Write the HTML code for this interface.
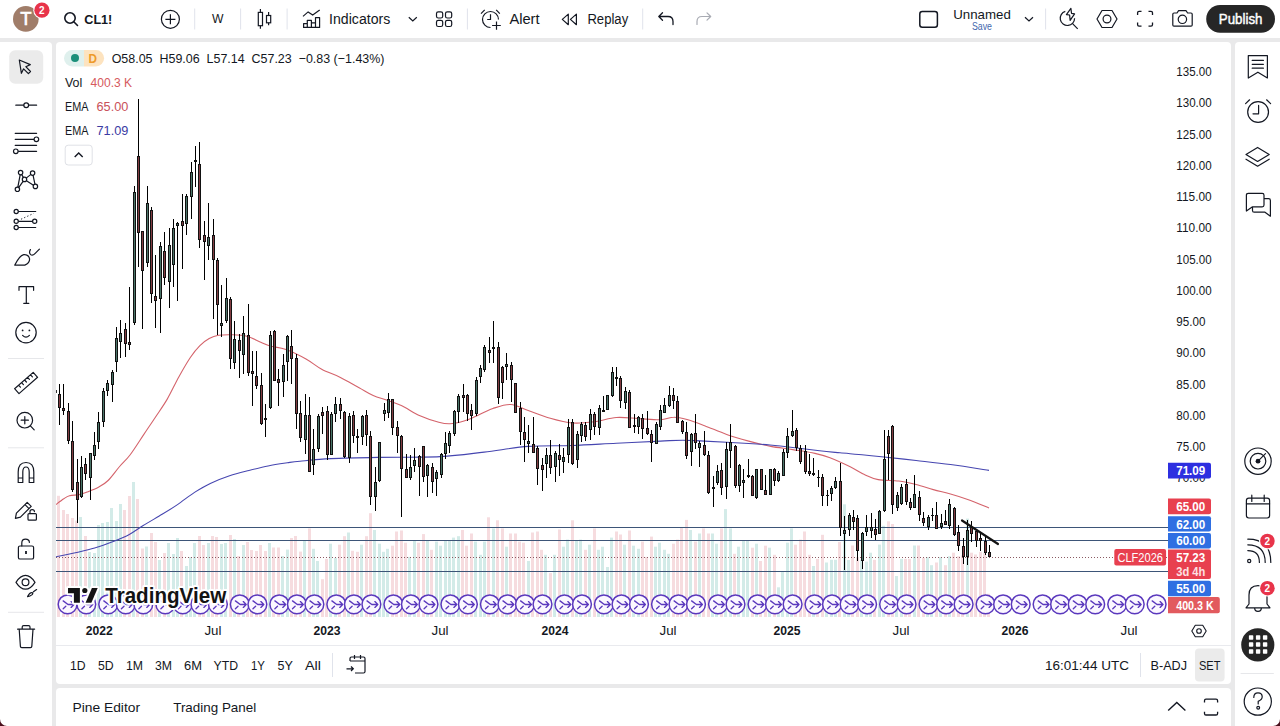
<!DOCTYPE html>
<html><head><meta charset="utf-8">
<style>
html,body{margin:0;padding:0;}
body{width:1280px;height:726px;overflow:hidden;background:#e9e9ea;position:relative;font-family:"Liberation Sans",sans-serif;color:#131722;}
.p{position:absolute;background:#fff;}
svg{position:absolute;left:0;top:0;}
text{font-family:"Liberation Sans",sans-serif;}
</style></head><body>
<div class="p" style="left:0;top:0;width:1280px;height:38px;"></div>
<div class="p" style="left:0;top:42px;width:52px;height:684px;border-radius:0 4px 0 0;"></div>
<div class="p" style="left:56px;top:42px;width:1175px;height:642px;border-radius:4px;"></div>
<div class="p" style="left:56px;top:688px;width:1175px;height:40px;border-radius:4px 4px 0 0;"></div>
<div class="p" style="left:1235px;top:42px;width:45px;height:684px;border-radius:4px 0 0 0;"></div>
<svg width="1280" height="726" viewBox="0 0 1280 726">
<defs><clipPath id="cc"><rect x="56" y="42" width="1112" height="575"/></clipPath></defs>
<g clip-path="url(#cc)">
<g><rect x="57" y="495.8" width="3" height="121.2" fill="#f6dcdf"/><rect x="62" y="510.0" width="3" height="107.0" fill="#f6dcdf"/><rect x="66" y="514.0" width="3" height="103.0" fill="#f6dcdf"/><rect x="71" y="518.0" width="3" height="99.0" fill="#f6dcdf"/><rect x="75" y="520.6" width="3" height="96.4" fill="#f6dcdf"/><rect x="79" y="517.0" width="3" height="100.0" fill="#d3ebe8"/><rect x="84" y="536.0" width="3" height="81.0" fill="#f6dcdf"/><rect x="88" y="552.0" width="3" height="65.0" fill="#d3ebe8"/><rect x="93" y="553.0" width="3" height="64.0" fill="#d3ebe8"/><rect x="97" y="525.0" width="3" height="92.0" fill="#d3ebe8"/><rect x="101" y="523.0" width="3" height="94.0" fill="#d3ebe8"/><rect x="106" y="522.0" width="3" height="95.0" fill="#d3ebe8"/><rect x="110" y="508.0" width="3" height="109.0" fill="#d3ebe8"/><rect x="115" y="521.0" width="3" height="96.0" fill="#d3ebe8"/><rect x="119" y="504.0" width="3" height="113.0" fill="#d3ebe8"/><rect x="123" y="510.0" width="3" height="107.0" fill="#f6dcdf"/><rect x="128" y="496.0" width="3" height="121.0" fill="#f6dcdf"/><rect x="132" y="482.0" width="3" height="135.0" fill="#d3ebe8"/><rect x="136" y="499.0" width="3" height="118.0" fill="#f6dcdf"/><rect x="141" y="548.5" width="3" height="68.5" fill="#f6dcdf"/><rect x="145" y="546.5" width="3" height="70.5" fill="#d3ebe8"/><rect x="150" y="533.0" width="3" height="84.0" fill="#f6dcdf"/><rect x="154" y="542.0" width="3" height="75.0" fill="#f6dcdf"/><rect x="158" y="560.0" width="3" height="57.0" fill="#d3ebe8"/><rect x="163" y="553.0" width="3" height="64.0" fill="#f6dcdf"/><rect x="167" y="543.0" width="3" height="74.0" fill="#d3ebe8"/><rect x="172" y="554.0" width="3" height="63.0" fill="#d3ebe8"/><rect x="176" y="538.0" width="3" height="79.0" fill="#d3ebe8"/><rect x="180" y="551.0" width="3" height="66.0" fill="#f6dcdf"/><rect x="185" y="566.0" width="3" height="51.0" fill="#d3ebe8"/><rect x="189" y="557.0" width="3" height="60.0" fill="#d3ebe8"/><rect x="193" y="543.0" width="3" height="74.0" fill="#d3ebe8"/><rect x="198" y="536.0" width="3" height="81.0" fill="#f6dcdf"/><rect x="202" y="545.0" width="3" height="72.0" fill="#f6dcdf"/><rect x="207" y="543.0" width="3" height="74.0" fill="#d3ebe8"/><rect x="211" y="536.0" width="3" height="81.0" fill="#f6dcdf"/><rect x="215" y="537.0" width="3" height="80.0" fill="#f6dcdf"/><rect x="220" y="544.0" width="3" height="73.0" fill="#d3ebe8"/><rect x="224" y="543.0" width="3" height="74.0" fill="#d3ebe8"/><rect x="229" y="535.0" width="3" height="82.0" fill="#f6dcdf"/><rect x="233" y="539.0" width="3" height="78.0" fill="#d3ebe8"/><rect x="237" y="556.0" width="3" height="61.0" fill="#f6dcdf"/><rect x="242" y="545.0" width="3" height="72.0" fill="#d3ebe8"/><rect x="246" y="542.0" width="3" height="75.0" fill="#f6dcdf"/><rect x="250" y="550.0" width="3" height="67.0" fill="#f6dcdf"/><rect x="255" y="551.0" width="3" height="66.0" fill="#f6dcdf"/><rect x="259" y="545.0" width="3" height="72.0" fill="#f6dcdf"/><rect x="264" y="551.0" width="3" height="66.0" fill="#f6dcdf"/><rect x="268" y="543.0" width="3" height="74.0" fill="#d3ebe8"/><rect x="272" y="547.5" width="3" height="69.5" fill="#f6dcdf"/><rect x="277" y="547.5" width="3" height="69.5" fill="#f6dcdf"/><rect x="281" y="556.0" width="3" height="61.0" fill="#d3ebe8"/><rect x="286" y="549.6" width="3" height="67.4" fill="#d3ebe8"/><rect x="290" y="538.0" width="3" height="79.0" fill="#f6dcdf"/><rect x="294" y="536.0" width="3" height="81.0" fill="#f6dcdf"/><rect x="299" y="551.6" width="3" height="65.4" fill="#f6dcdf"/><rect x="303" y="540.0" width="3" height="77.0" fill="#d3ebe8"/><rect x="308" y="528.4" width="3" height="88.6" fill="#f6dcdf"/><rect x="312" y="548.8" width="3" height="68.2" fill="#d3ebe8"/><rect x="316" y="561.0" width="3" height="56.0" fill="#d3ebe8"/><rect x="321" y="579.2" width="3" height="37.8" fill="#f6dcdf"/><rect x="325" y="558.9" width="3" height="58.1" fill="#f6dcdf"/><rect x="329" y="543.7" width="3" height="73.3" fill="#d3ebe8"/><rect x="334" y="557.9" width="3" height="59.1" fill="#d3ebe8"/><rect x="338" y="544.7" width="3" height="72.3" fill="#f6dcdf"/><rect x="343" y="536.2" width="3" height="80.8" fill="#f6dcdf"/><rect x="347" y="532.5" width="3" height="84.5" fill="#d3ebe8"/><rect x="351" y="550.8" width="3" height="66.2" fill="#f6dcdf"/><rect x="356" y="551.8" width="3" height="65.2" fill="#f6dcdf"/><rect x="360" y="544.7" width="3" height="72.3" fill="#d3ebe8"/><rect x="365" y="536.2" width="3" height="80.8" fill="#f6dcdf"/><rect x="369" y="513.2" width="3" height="103.8" fill="#f6dcdf"/><rect x="373" y="530.0" width="3" height="87.0" fill="#d3ebe8"/><rect x="378" y="543.7" width="3" height="73.3" fill="#d3ebe8"/><rect x="382" y="551.8" width="3" height="65.2" fill="#d3ebe8"/><rect x="386" y="548.8" width="3" height="68.2" fill="#d3ebe8"/><rect x="391" y="545.7" width="3" height="71.3" fill="#f6dcdf"/><rect x="395" y="531.5" width="3" height="85.5" fill="#f6dcdf"/><rect x="400" y="530.5" width="3" height="86.5" fill="#f6dcdf"/><rect x="404" y="542.7" width="3" height="74.3" fill="#f6dcdf"/><rect x="408" y="556.9" width="3" height="60.1" fill="#d3ebe8"/><rect x="413" y="540.6" width="3" height="76.4" fill="#d3ebe8"/><rect x="417" y="542.7" width="3" height="74.3" fill="#f6dcdf"/><rect x="422" y="534.1" width="3" height="82.9" fill="#f6dcdf"/><rect x="426" y="540.6" width="3" height="76.4" fill="#d3ebe8"/><rect x="430" y="549.8" width="3" height="67.2" fill="#f6dcdf"/><rect x="435" y="541.6" width="3" height="75.4" fill="#d3ebe8"/><rect x="439" y="545.7" width="3" height="71.3" fill="#d3ebe8"/><rect x="444" y="540.6" width="3" height="76.4" fill="#d3ebe8"/><rect x="448" y="540.6" width="3" height="76.4" fill="#d3ebe8"/><rect x="452" y="537.6" width="3" height="79.4" fill="#d3ebe8"/><rect x="457" y="536.2" width="3" height="80.8" fill="#d3ebe8"/><rect x="461" y="530.0" width="3" height="87.0" fill="#f6dcdf"/><rect x="465" y="545.7" width="3" height="71.3" fill="#f6dcdf"/><rect x="470" y="533.5" width="3" height="83.5" fill="#f6dcdf"/><rect x="474" y="541.6" width="3" height="75.4" fill="#d3ebe8"/><rect x="479" y="554.8" width="3" height="62.2" fill="#d3ebe8"/><rect x="483" y="541.6" width="3" height="75.4" fill="#d3ebe8"/><rect x="487" y="517.3" width="3" height="99.7" fill="#f6dcdf"/><rect x="492" y="528.4" width="3" height="88.6" fill="#d3ebe8"/><rect x="496" y="520.3" width="3" height="96.7" fill="#f6dcdf"/><rect x="501" y="528.4" width="3" height="88.6" fill="#f6dcdf"/><rect x="505" y="546.7" width="3" height="70.3" fill="#d3ebe8"/><rect x="509" y="533.5" width="3" height="83.5" fill="#f6dcdf"/><rect x="514" y="533.5" width="3" height="83.5" fill="#f6dcdf"/><rect x="518" y="541.6" width="3" height="75.4" fill="#f6dcdf"/><rect x="522" y="542.7" width="3" height="74.3" fill="#f6dcdf"/><rect x="527" y="561.0" width="3" height="56.0" fill="#d3ebe8"/><rect x="531" y="532.5" width="3" height="84.5" fill="#f6dcdf"/><rect x="536" y="531.5" width="3" height="85.5" fill="#f6dcdf"/><rect x="540" y="549.8" width="3" height="67.2" fill="#f6dcdf"/><rect x="544" y="554.8" width="3" height="62.2" fill="#d3ebe8"/><rect x="549" y="573.1" width="3" height="43.9" fill="#f6dcdf"/><rect x="553" y="554.8" width="3" height="62.2" fill="#d3ebe8"/><rect x="558" y="529.5" width="3" height="87.5" fill="#f6dcdf"/><rect x="562" y="546.7" width="3" height="70.3" fill="#d3ebe8"/><rect x="566" y="539.6" width="3" height="77.4" fill="#d3ebe8"/><rect x="571" y="520.3" width="3" height="96.7" fill="#f6dcdf"/><rect x="575" y="540.6" width="3" height="76.4" fill="#d3ebe8"/><rect x="579" y="539.6" width="3" height="77.4" fill="#d3ebe8"/><rect x="584" y="549.8" width="3" height="67.2" fill="#f6dcdf"/><rect x="588" y="544.7" width="3" height="72.3" fill="#d3ebe8"/><rect x="593" y="528.4" width="3" height="88.6" fill="#f6dcdf"/><rect x="597" y="549.8" width="3" height="67.2" fill="#d3ebe8"/><rect x="601" y="546.7" width="3" height="70.3" fill="#d3ebe8"/><rect x="606" y="567.0" width="3" height="50.0" fill="#d3ebe8"/><rect x="610" y="537.6" width="3" height="79.4" fill="#d3ebe8"/><rect x="615" y="531.5" width="3" height="85.5" fill="#f6dcdf"/><rect x="619" y="534.5" width="3" height="82.5" fill="#f6dcdf"/><rect x="623" y="544.7" width="3" height="72.3" fill="#d3ebe8"/><rect x="628" y="530.5" width="3" height="86.5" fill="#f6dcdf"/><rect x="632" y="545.7" width="3" height="71.3" fill="#d3ebe8"/><rect x="637" y="548.8" width="3" height="68.2" fill="#d3ebe8"/><rect x="641" y="541.6" width="3" height="75.4" fill="#f6dcdf"/><rect x="645" y="556.9" width="3" height="60.1" fill="#f6dcdf"/><rect x="650" y="536.6" width="3" height="80.4" fill="#f6dcdf"/><rect x="654" y="546.7" width="3" height="70.3" fill="#d3ebe8"/><rect x="658" y="542.7" width="3" height="74.3" fill="#d3ebe8"/><rect x="663" y="549.8" width="3" height="67.2" fill="#d3ebe8"/><rect x="667" y="553.8" width="3" height="63.2" fill="#d3ebe8"/><rect x="672" y="543.7" width="3" height="73.3" fill="#f6dcdf"/><rect x="676" y="539.6" width="3" height="77.4" fill="#f6dcdf"/><rect x="680" y="527.4" width="3" height="89.6" fill="#f6dcdf"/><rect x="685" y="519.9" width="3" height="97.1" fill="#f6dcdf"/><rect x="689" y="530.0" width="3" height="87.0" fill="#d3ebe8"/><rect x="694" y="541.6" width="3" height="75.4" fill="#f6dcdf"/><rect x="698" y="533.5" width="3" height="83.5" fill="#d3ebe8"/><rect x="702" y="528.4" width="3" height="88.6" fill="#f6dcdf"/><rect x="707" y="533.5" width="3" height="83.5" fill="#f6dcdf"/><rect x="711" y="533.5" width="3" height="83.5" fill="#d3ebe8"/><rect x="715" y="543.7" width="3" height="73.3" fill="#d3ebe8"/><rect x="720" y="528.4" width="3" height="88.6" fill="#f6dcdf"/><rect x="724" y="509.1" width="3" height="107.9" fill="#d3ebe8"/><rect x="729" y="528.4" width="3" height="88.6" fill="#d3ebe8"/><rect x="733" y="553.8" width="3" height="63.2" fill="#f6dcdf"/><rect x="737" y="546.7" width="3" height="70.3" fill="#d3ebe8"/><rect x="742" y="540.6" width="3" height="76.4" fill="#d3ebe8"/><rect x="746" y="540.6" width="3" height="76.4" fill="#d3ebe8"/><rect x="751" y="547.7" width="3" height="69.3" fill="#f6dcdf"/><rect x="755" y="543.7" width="3" height="73.3" fill="#d3ebe8"/><rect x="759" y="561.0" width="3" height="56.0" fill="#f6dcdf"/><rect x="764" y="545.7" width="3" height="71.3" fill="#f6dcdf"/><rect x="768" y="547.7" width="3" height="69.3" fill="#d3ebe8"/><rect x="773" y="554.8" width="3" height="62.2" fill="#f6dcdf"/><rect x="777" y="587.3" width="3" height="29.7" fill="#d3ebe8"/><rect x="781" y="572.1" width="3" height="44.9" fill="#d3ebe8"/><rect x="786" y="542.7" width="3" height="74.3" fill="#d3ebe8"/><rect x="790" y="528.4" width="3" height="88.6" fill="#d3ebe8"/><rect x="794" y="544.7" width="3" height="72.3" fill="#f6dcdf"/><rect x="799" y="539.6" width="3" height="77.4" fill="#f6dcdf"/><rect x="803" y="531.5" width="3" height="85.5" fill="#f6dcdf"/><rect x="808" y="554.8" width="3" height="62.2" fill="#f6dcdf"/><rect x="812" y="566.0" width="3" height="51.0" fill="#d3ebe8"/><rect x="816" y="558.9" width="3" height="58.1" fill="#f6dcdf"/><rect x="821" y="534.8" width="3" height="82.2" fill="#f6dcdf"/><rect x="825" y="562.5" width="3" height="54.5" fill="#d3ebe8"/><rect x="830" y="559.8" width="3" height="57.2" fill="#d3ebe8"/><rect x="834" y="559.8" width="3" height="57.2" fill="#d3ebe8"/><rect x="838" y="541.9" width="3" height="75.1" fill="#f6dcdf"/><rect x="843" y="504.3" width="3" height="112.7" fill="#d3ebe8"/><rect x="847" y="560.0" width="3" height="57.0" fill="#d3ebe8"/><rect x="851" y="545.5" width="3" height="71.5" fill="#f6dcdf"/><rect x="856" y="557.1" width="3" height="59.9" fill="#f6dcdf"/><rect x="860" y="559.8" width="3" height="57.2" fill="#d3ebe8"/><rect x="865" y="561.6" width="3" height="55.4" fill="#d3ebe8"/><rect x="869" y="552.7" width="3" height="64.3" fill="#d3ebe8"/><rect x="873" y="559.8" width="3" height="57.2" fill="#f6dcdf"/><rect x="878" y="544.6" width="3" height="72.4" fill="#d3ebe8"/><rect x="882" y="525.8" width="3" height="91.2" fill="#d3ebe8"/><rect x="887" y="521.3" width="3" height="95.7" fill="#f6dcdf"/><rect x="891" y="524.0" width="3" height="93.0" fill="#f6dcdf"/><rect x="895" y="576.0" width="3" height="41.0" fill="#d3ebe8"/><rect x="900" y="558.9" width="3" height="58.1" fill="#d3ebe8"/><rect x="904" y="558.9" width="3" height="58.1" fill="#f6dcdf"/><rect x="908" y="558.9" width="3" height="58.1" fill="#f6dcdf"/><rect x="913" y="545.5" width="3" height="71.5" fill="#d3ebe8"/><rect x="917" y="545.5" width="3" height="71.5" fill="#f6dcdf"/><rect x="922" y="558.0" width="3" height="59.0" fill="#f6dcdf"/><rect x="926" y="557.1" width="3" height="59.9" fill="#d3ebe8"/><rect x="930" y="565.2" width="3" height="51.8" fill="#d3ebe8"/><rect x="935" y="562.5" width="3" height="54.5" fill="#f6dcdf"/><rect x="939" y="557.1" width="3" height="59.9" fill="#d3ebe8"/><rect x="944" y="565.2" width="3" height="51.8" fill="#f6dcdf"/><rect x="948" y="556.2" width="3" height="60.8" fill="#d3ebe8"/><rect x="952" y="552.7" width="3" height="64.3" fill="#f6dcdf"/><rect x="957" y="556.2" width="3" height="60.8" fill="#f6dcdf"/><rect x="961" y="555.4" width="3" height="61.6" fill="#f6dcdf"/><rect x="966" y="518.6" width="3" height="98.4" fill="#d3ebe8"/><rect x="970" y="552.7" width="3" height="64.3" fill="#f6dcdf"/><rect x="974" y="554.5" width="3" height="62.5" fill="#f6dcdf"/><rect x="979" y="551.8" width="3" height="65.2" fill="#f6dcdf"/><rect x="983" y="552.7" width="3" height="64.3" fill="#f6dcdf"/><rect x="987" y="593.8" width="3" height="23.2" fill="#f6dcdf"/></g>
<line x1="56" y1="527.5" x2="1168" y2="527.5" stroke="#3d5578" stroke-width="1"/>
<line x1="56" y1="540.5" x2="1168" y2="540.5" stroke="#3d5578" stroke-width="1"/>
<line x1="56" y1="571.5" x2="1168" y2="571.5" stroke="#3d5578" stroke-width="1"/>
<line x1="56" y1="557.5" x2="1168" y2="557.5" stroke="#8a5a62" stroke-width="1" stroke-dasharray="1 2"/>
<path d="M56.0,504.6 C57.3,503.6 61.5,500.3 63.7,498.8 C66.0,497.3 66.9,496.5 69.5,495.8 C72.1,495.1 76.2,495.2 79.1,494.6 C82.0,494.0 83.7,493.3 86.9,492.1 C90.1,490.9 94.9,489.2 98.4,487.3 C101.9,485.4 104.6,484.0 108.1,480.5 C111.6,477.0 115.9,470.8 119.6,466.5 C123.2,462.2 126.0,460.3 130.0,455.0 C134.0,449.7 139.5,440.9 143.7,434.6 C147.9,428.3 151.5,423.1 155.4,417.2 C159.3,411.3 163.2,406.1 167.1,399.4 C171.0,392.7 174.9,384.0 178.8,377.0 C182.7,370.0 187.0,362.5 190.5,357.3 C194.0,352.1 196.8,348.7 199.9,345.6 C203.0,342.5 206.1,340.2 209.2,338.5 C212.3,336.8 214.7,335.9 218.6,335.3 C222.5,334.7 228.0,334.7 232.7,334.8 C237.4,334.9 242.0,335.0 246.7,336.2 C251.4,337.4 256.9,340.6 260.8,342.2 C264.7,343.8 265.9,344.8 270.1,346.0 C274.3,347.2 280.0,347.3 286.0,349.5 C292.0,351.7 300.1,355.7 306.0,359.0 C311.9,362.3 316.0,366.2 321.7,369.3 C327.4,372.4 334.2,374.3 340.4,377.4 C346.6,380.5 353.6,384.7 359.1,387.7 C364.6,390.7 368.5,393.4 373.2,395.5 C377.9,397.6 382.5,398.6 387.2,400.3 C391.9,402.0 395.8,402.9 401.3,405.5 C406.8,408.1 413.8,413.0 420.0,415.8 C426.2,418.6 433.8,421.0 438.8,422.3 C443.8,423.6 445.8,424.0 450.0,423.8 C454.2,423.6 459.8,422.2 464.0,421.0 C468.2,419.8 470.5,418.6 475.3,416.5 C480.1,414.4 487.0,410.5 492.9,408.5 C498.8,406.5 504.7,404.2 510.6,404.5 C516.5,404.8 521.6,408.2 528.2,410.5 C534.8,412.8 542.9,416.1 550.3,418.2 C557.6,420.3 564.9,422.4 572.3,423.0 C579.6,423.6 587.0,422.7 594.4,421.8 C601.8,420.9 609.0,418.0 616.4,417.5 C623.8,417.0 631.1,418.2 638.5,418.6 C645.9,419.0 654.6,420.0 660.5,419.8 C666.4,419.6 669.3,417.2 673.7,417.2 C678.1,417.1 681.9,418.1 687.0,419.5 C692.1,420.9 698.0,423.2 704.6,425.7 C711.2,428.2 719.4,431.9 726.7,434.5 C734.1,437.1 741.4,439.1 748.7,441.1 C756.1,443.1 763.4,445.0 770.8,446.4 C778.1,447.8 785.4,448.4 792.8,449.6 C800.1,450.8 808.7,452.0 814.9,453.4 C821.1,454.8 824.0,455.5 830.0,457.8 C836.0,460.1 845.0,464.3 850.7,467.1 C856.4,469.9 859.8,472.4 864.4,474.5 C869.0,476.6 872.5,478.5 878.2,479.6 C883.9,480.7 892.5,480.2 898.8,481.0 C905.1,481.8 910.4,483.1 916.1,484.5 C921.9,485.9 927.6,488.0 933.3,489.6 C939.0,491.2 944.8,492.4 950.5,494.0 C956.2,495.6 961.3,497.2 967.7,499.5 C974.1,501.8 985.5,506.6 989.0,508.0" fill="none" stroke="#d4636b" stroke-width="1.1"/>
<path d="M56.0,556.7 C59.2,556.1 68.9,554.2 75.3,552.8 C81.7,551.3 88.2,549.9 94.6,548.0 C101.0,546.1 108.1,543.5 113.9,541.3 C119.7,539.0 124.5,537.1 129.3,534.5 C134.1,531.9 137.3,529.2 142.8,525.8 C148.3,522.4 156.3,517.8 162.1,514.3 C167.9,510.8 172.0,508.3 177.5,504.6 C183.0,500.9 189.4,495.6 194.9,492.1 C200.4,488.6 204.5,486.1 210.3,483.4 C216.1,480.7 223.2,477.8 229.6,475.7 C236.0,473.6 242.5,472.1 248.9,470.5 C255.3,468.9 261.7,467.3 268.1,466.0 C274.5,464.7 282.1,463.6 287.4,462.8 C292.7,462.0 292.7,461.9 300.0,461.2 C307.3,460.5 318.0,459.2 331.0,458.6 C344.0,458.0 359.7,457.7 377.9,457.4 C396.1,457.1 422.3,457.5 440.0,456.6 C457.7,455.7 469.4,453.8 484.1,452.1 C498.8,450.4 513.5,447.5 528.2,446.4 C542.9,445.3 557.6,446.0 572.3,445.5 C587.0,445.0 601.7,444.0 616.4,443.3 C631.1,442.6 649.5,441.6 660.5,441.1 C671.5,440.6 675.2,440.2 682.6,440.2 C690.0,440.2 693.6,440.6 704.6,441.1 C715.6,441.7 737.8,442.9 748.7,443.5 C759.6,444.1 762.6,444.3 770.0,445.0 C777.4,445.7 784.5,446.5 792.8,447.5 C801.1,448.5 811.7,449.9 819.6,450.8 C827.5,451.7 832.5,452.1 840.0,452.8 C847.5,453.5 857.5,454.3 864.4,455.0 C871.3,455.7 873.0,455.9 881.6,456.8 C890.2,457.7 904.6,459.2 916.1,460.5 C927.6,461.8 938.4,462.9 950.5,464.5 C962.6,466.1 982.6,469.4 989.0,470.4" fill="none" stroke="#4646b0" stroke-width="1.1"/>
<g><rect x="59" y="384" width="1" height="41" fill="#000"/><rect x="58" y="394" width="3" height="14" fill="#111"/><rect x="59" y="395" width="1" height="12" fill="#823c42"/><rect x="63" y="384" width="1" height="31" fill="#000"/><rect x="62" y="408" width="3" height="3" fill="#111"/><rect x="63" y="409" width="1" height="1" fill="#823c42"/><rect x="68" y="403" width="1" height="41" fill="#000"/><rect x="67" y="411" width="3" height="30" fill="#111"/><rect x="68" y="412" width="1" height="28" fill="#823c42"/><rect x="72" y="421" width="1" height="71" fill="#000"/><rect x="71" y="441" width="3" height="49" fill="#111"/><rect x="72" y="442" width="1" height="47" fill="#823c42"/><rect x="77" y="459" width="1" height="64" fill="#000"/><rect x="76" y="482" width="3" height="18" fill="#111"/><rect x="77" y="483" width="1" height="16" fill="#823c42"/><rect x="81" y="456" width="1" height="42" fill="#000"/><rect x="80" y="467" width="3" height="30" fill="#111"/><rect x="81" y="468" width="1" height="28" fill="#4a7468"/><rect x="85" y="458" width="1" height="22" fill="#000"/><rect x="84" y="464" width="3" height="10" fill="#111"/><rect x="85" y="465" width="1" height="8" fill="#823c42"/><rect x="90" y="453" width="1" height="47" fill="#000"/><rect x="89" y="453" width="3" height="25" fill="#111"/><rect x="90" y="454" width="1" height="23" fill="#4a7468"/><rect x="94" y="432" width="1" height="28" fill="#000"/><rect x="93" y="445" width="3" height="11" fill="#111"/><rect x="94" y="446" width="1" height="9" fill="#4a7468"/><rect x="98" y="412" width="1" height="37" fill="#000"/><rect x="97" y="422" width="3" height="20" fill="#111"/><rect x="98" y="423" width="1" height="18" fill="#4a7468"/><rect x="103" y="388" width="1" height="39" fill="#000"/><rect x="102" y="391" width="3" height="31" fill="#111"/><rect x="103" y="392" width="1" height="29" fill="#4a7468"/><rect x="107" y="380" width="1" height="16" fill="#000"/><rect x="106" y="383" width="3" height="8" fill="#111"/><rect x="107" y="384" width="1" height="6" fill="#4a7468"/><rect x="112" y="370" width="1" height="32" fill="#000"/><rect x="111" y="372" width="3" height="13" fill="#111"/><rect x="112" y="373" width="1" height="11" fill="#4a7468"/><rect x="116" y="327" width="1" height="45" fill="#000"/><rect x="115" y="338" width="3" height="24" fill="#111"/><rect x="116" y="339" width="1" height="22" fill="#4a7468"/><rect x="120" y="320" width="1" height="38" fill="#000"/><rect x="119" y="333" width="3" height="9" fill="#111"/><rect x="120" y="334" width="1" height="7" fill="#4a7468"/><rect x="125" y="323" width="1" height="34" fill="#000"/><rect x="124" y="329" width="3" height="15" fill="#111"/><rect x="125" y="330" width="1" height="13" fill="#823c42"/><rect x="129" y="287" width="1" height="63" fill="#000"/><rect x="128" y="342" width="3" height="3" fill="#111"/><rect x="129" y="343" width="1" height="1" fill="#823c42"/><rect x="134" y="186" width="1" height="139" fill="#000"/><rect x="133" y="192" width="3" height="131" fill="#111"/><rect x="134" y="193" width="1" height="129" fill="#4a7468"/><rect x="138" y="99" width="1" height="168" fill="#000"/><rect x="137" y="156" width="3" height="77" fill="#111"/><rect x="138" y="157" width="1" height="75" fill="#823c42"/><rect x="142" y="231" width="1" height="98" fill="#000"/><rect x="141" y="231" width="3" height="40" fill="#111"/><rect x="142" y="232" width="1" height="38" fill="#823c42"/><rect x="147" y="186" width="1" height="81" fill="#000"/><rect x="146" y="203" width="3" height="60" fill="#111"/><rect x="147" y="204" width="1" height="58" fill="#4a7468"/><rect x="151" y="207" width="1" height="96" fill="#000"/><rect x="150" y="210" width="3" height="84" fill="#111"/><rect x="151" y="211" width="1" height="82" fill="#823c42"/><rect x="155" y="255" width="1" height="73" fill="#000"/><rect x="154" y="296" width="3" height="5" fill="#111"/><rect x="155" y="297" width="1" height="3" fill="#823c42"/><rect x="160" y="242" width="1" height="91" fill="#000"/><rect x="159" y="246" width="3" height="53" fill="#111"/><rect x="160" y="247" width="1" height="51" fill="#4a7468"/><rect x="164" y="232" width="1" height="53" fill="#000"/><rect x="163" y="251" width="3" height="27" fill="#111"/><rect x="164" y="252" width="1" height="25" fill="#823c42"/><rect x="169" y="228" width="1" height="80" fill="#000"/><rect x="168" y="245" width="3" height="37" fill="#111"/><rect x="169" y="246" width="1" height="35" fill="#4a7468"/><rect x="173" y="219" width="1" height="68" fill="#000"/><rect x="172" y="228" width="3" height="37" fill="#111"/><rect x="173" y="229" width="1" height="35" fill="#4a7468"/><rect x="177" y="222" width="1" height="79" fill="#000"/><rect x="176" y="223" width="3" height="3" fill="#111"/><rect x="177" y="224" width="1" height="1" fill="#4a7468"/><rect x="182" y="194" width="1" height="75" fill="#000"/><rect x="181" y="221" width="3" height="5" fill="#111"/><rect x="182" y="222" width="1" height="3" fill="#823c42"/><rect x="186" y="194" width="1" height="41" fill="#000"/><rect x="185" y="196" width="3" height="28" fill="#111"/><rect x="186" y="197" width="1" height="26" fill="#4a7468"/><rect x="191" y="162" width="1" height="57" fill="#000"/><rect x="190" y="172" width="3" height="25" fill="#111"/><rect x="191" y="173" width="1" height="23" fill="#4a7468"/><rect x="195" y="146" width="1" height="41" fill="#000"/><rect x="194" y="160" width="3" height="2" fill="#111"/><rect x="199" y="142" width="1" height="106" fill="#000"/><rect x="198" y="164" width="3" height="76" fill="#111"/><rect x="199" y="165" width="1" height="74" fill="#823c42"/><rect x="204" y="221" width="1" height="59" fill="#000"/><rect x="203" y="235" width="3" height="7" fill="#111"/><rect x="204" y="236" width="1" height="5" fill="#823c42"/><rect x="208" y="203" width="1" height="57" fill="#000"/><rect x="207" y="237" width="3" height="9" fill="#111"/><rect x="208" y="238" width="1" height="7" fill="#4a7468"/><rect x="213" y="219" width="1" height="100" fill="#000"/><rect x="212" y="235" width="3" height="25" fill="#111"/><rect x="213" y="236" width="1" height="23" fill="#823c42"/><rect x="217" y="258" width="1" height="77" fill="#000"/><rect x="216" y="260" width="3" height="45" fill="#111"/><rect x="217" y="261" width="1" height="43" fill="#823c42"/><rect x="221" y="285" width="1" height="52" fill="#000"/><rect x="220" y="323" width="3" height="3" fill="#111"/><rect x="221" y="324" width="1" height="1" fill="#4a7468"/><rect x="226" y="278" width="1" height="45" fill="#000"/><rect x="225" y="298" width="3" height="23" fill="#111"/><rect x="226" y="299" width="1" height="21" fill="#4a7468"/><rect x="230" y="297" width="1" height="72" fill="#000"/><rect x="229" y="299" width="3" height="60" fill="#111"/><rect x="230" y="300" width="1" height="58" fill="#823c42"/><rect x="234" y="321" width="1" height="48" fill="#000"/><rect x="233" y="339" width="3" height="24" fill="#111"/><rect x="234" y="340" width="1" height="22" fill="#4a7468"/><rect x="239" y="334" width="1" height="44" fill="#000"/><rect x="238" y="340" width="3" height="11" fill="#111"/><rect x="239" y="341" width="1" height="9" fill="#823c42"/><rect x="243" y="316" width="1" height="58" fill="#000"/><rect x="242" y="333" width="3" height="22" fill="#111"/><rect x="243" y="334" width="1" height="20" fill="#4a7468"/><rect x="248" y="304" width="1" height="72" fill="#000"/><rect x="247" y="335" width="3" height="38" fill="#111"/><rect x="248" y="336" width="1" height="36" fill="#823c42"/><rect x="252" y="351" width="1" height="55" fill="#000"/><rect x="251" y="371" width="3" height="3" fill="#111"/><rect x="252" y="372" width="1" height="1" fill="#823c42"/><rect x="256" y="351" width="1" height="38" fill="#000"/><rect x="255" y="376" width="3" height="10" fill="#111"/><rect x="256" y="377" width="1" height="8" fill="#823c42"/><rect x="261" y="373" width="1" height="52" fill="#000"/><rect x="260" y="385" width="3" height="39" fill="#111"/><rect x="261" y="386" width="1" height="37" fill="#823c42"/><rect x="265" y="404" width="1" height="33" fill="#000"/><rect x="264" y="418" width="3" height="2" fill="#111"/><rect x="270" y="331" width="1" height="78" fill="#000"/><rect x="269" y="335" width="3" height="73" fill="#111"/><rect x="270" y="336" width="1" height="71" fill="#4a7468"/><rect x="274" y="330" width="1" height="51" fill="#000"/><rect x="273" y="331" width="3" height="50" fill="#111"/><rect x="274" y="332" width="1" height="48" fill="#823c42"/><rect x="278" y="369" width="1" height="37" fill="#000"/><rect x="277" y="379" width="3" height="4" fill="#111"/><rect x="278" y="380" width="1" height="2" fill="#823c42"/><rect x="283" y="354" width="1" height="43" fill="#000"/><rect x="282" y="365" width="3" height="17" fill="#111"/><rect x="283" y="366" width="1" height="15" fill="#4a7468"/><rect x="287" y="335" width="1" height="46" fill="#000"/><rect x="286" y="336" width="3" height="26" fill="#111"/><rect x="287" y="337" width="1" height="24" fill="#4a7468"/><rect x="291" y="330" width="1" height="54" fill="#000"/><rect x="290" y="346" width="3" height="13" fill="#111"/><rect x="291" y="347" width="1" height="11" fill="#823c42"/><rect x="296" y="354" width="1" height="75" fill="#000"/><rect x="295" y="358" width="3" height="56" fill="#111"/><rect x="296" y="359" width="1" height="54" fill="#823c42"/><rect x="300" y="401" width="1" height="41" fill="#000"/><rect x="299" y="413" width="3" height="25" fill="#111"/><rect x="300" y="414" width="1" height="23" fill="#823c42"/><rect x="305" y="394" width="1" height="60" fill="#000"/><rect x="304" y="415" width="3" height="25" fill="#111"/><rect x="305" y="416" width="1" height="23" fill="#4a7468"/><rect x="309" y="397" width="1" height="75" fill="#000"/><rect x="308" y="415" width="3" height="57" fill="#111"/><rect x="309" y="416" width="1" height="55" fill="#823c42"/><rect x="313" y="429" width="1" height="46" fill="#000"/><rect x="312" y="449" width="3" height="16" fill="#111"/><rect x="313" y="450" width="1" height="14" fill="#4a7468"/><rect x="318" y="414" width="1" height="38" fill="#000"/><rect x="317" y="416" width="3" height="33" fill="#111"/><rect x="318" y="417" width="1" height="31" fill="#4a7468"/><rect x="322" y="407" width="1" height="27" fill="#000"/><rect x="321" y="412" width="3" height="4" fill="#111"/><rect x="322" y="413" width="1" height="2" fill="#823c42"/><rect x="327" y="406" width="1" height="54" fill="#000"/><rect x="326" y="411" width="3" height="44" fill="#111"/><rect x="327" y="412" width="1" height="42" fill="#823c42"/><rect x="331" y="412" width="1" height="43" fill="#000"/><rect x="330" y="414" width="3" height="41" fill="#111"/><rect x="331" y="415" width="1" height="39" fill="#4a7468"/><rect x="335" y="397" width="1" height="25" fill="#000"/><rect x="334" y="404" width="3" height="10" fill="#111"/><rect x="335" y="405" width="1" height="8" fill="#4a7468"/><rect x="340" y="398" width="1" height="21" fill="#000"/><rect x="339" y="404" width="3" height="7" fill="#111"/><rect x="340" y="405" width="1" height="5" fill="#823c42"/><rect x="344" y="411" width="1" height="47" fill="#000"/><rect x="343" y="412" width="3" height="45" fill="#111"/><rect x="344" y="413" width="1" height="43" fill="#823c42"/><rect x="349" y="413" width="1" height="50" fill="#000"/><rect x="348" y="416" width="3" height="42" fill="#111"/><rect x="349" y="417" width="1" height="40" fill="#4a7468"/><rect x="353" y="411" width="1" height="32" fill="#000"/><rect x="352" y="415" width="3" height="21" fill="#111"/><rect x="353" y="416" width="1" height="19" fill="#823c42"/><rect x="357" y="429" width="1" height="24" fill="#000"/><rect x="356" y="436" width="3" height="2" fill="#111"/><rect x="362" y="415" width="1" height="30" fill="#000"/><rect x="361" y="416" width="3" height="21" fill="#111"/><rect x="362" y="417" width="1" height="19" fill="#4a7468"/><rect x="366" y="410" width="1" height="36" fill="#000"/><rect x="365" y="415" width="3" height="20" fill="#111"/><rect x="366" y="416" width="1" height="18" fill="#823c42"/><rect x="370" y="431" width="1" height="74" fill="#000"/><rect x="369" y="436" width="3" height="61" fill="#111"/><rect x="370" y="437" width="1" height="59" fill="#823c42"/><rect x="375" y="467" width="1" height="44" fill="#000"/><rect x="374" y="482" width="3" height="15" fill="#111"/><rect x="375" y="483" width="1" height="13" fill="#4a7468"/><rect x="379" y="442" width="1" height="40" fill="#000"/><rect x="378" y="442" width="3" height="39" fill="#111"/><rect x="379" y="443" width="1" height="37" fill="#4a7468"/><rect x="384" y="403" width="1" height="18" fill="#000"/><rect x="383" y="410" width="3" height="4" fill="#111"/><rect x="384" y="411" width="1" height="2" fill="#4a7468"/><rect x="388" y="393" width="1" height="25" fill="#000"/><rect x="387" y="399" width="3" height="14" fill="#111"/><rect x="388" y="400" width="1" height="12" fill="#4a7468"/><rect x="392" y="399" width="1" height="36" fill="#000"/><rect x="391" y="399" width="3" height="29" fill="#111"/><rect x="392" y="400" width="1" height="27" fill="#823c42"/><rect x="397" y="421" width="1" height="32" fill="#000"/><rect x="396" y="427" width="3" height="9" fill="#111"/><rect x="397" y="428" width="1" height="7" fill="#823c42"/><rect x="401" y="435" width="1" height="82" fill="#000"/><rect x="400" y="436" width="3" height="33" fill="#111"/><rect x="401" y="437" width="1" height="31" fill="#823c42"/><rect x="406" y="454" width="1" height="24" fill="#000"/><rect x="405" y="469" width="3" height="9" fill="#111"/><rect x="406" y="470" width="1" height="7" fill="#823c42"/><rect x="410" y="455" width="1" height="25" fill="#000"/><rect x="409" y="467" width="3" height="11" fill="#111"/><rect x="410" y="468" width="1" height="9" fill="#4a7468"/><rect x="414" y="448" width="1" height="24" fill="#000"/><rect x="413" y="460" width="3" height="6" fill="#111"/><rect x="414" y="461" width="1" height="4" fill="#4a7468"/><rect x="419" y="455" width="1" height="41" fill="#000"/><rect x="418" y="456" width="3" height="11" fill="#111"/><rect x="419" y="457" width="1" height="9" fill="#823c42"/><rect x="423" y="446" width="1" height="36" fill="#000"/><rect x="422" y="446" width="3" height="31" fill="#111"/><rect x="423" y="447" width="1" height="29" fill="#823c42"/><rect x="427" y="464" width="1" height="33" fill="#000"/><rect x="426" y="465" width="3" height="11" fill="#111"/><rect x="427" y="466" width="1" height="9" fill="#4a7468"/><rect x="432" y="463" width="1" height="30" fill="#000"/><rect x="431" y="467" width="3" height="15" fill="#111"/><rect x="432" y="468" width="1" height="13" fill="#823c42"/><rect x="436" y="470" width="1" height="26" fill="#000"/><rect x="435" y="472" width="3" height="7" fill="#111"/><rect x="436" y="473" width="1" height="5" fill="#4a7468"/><rect x="441" y="453" width="1" height="25" fill="#000"/><rect x="440" y="454" width="3" height="21" fill="#111"/><rect x="441" y="455" width="1" height="19" fill="#4a7468"/><rect x="445" y="432" width="1" height="27" fill="#000"/><rect x="444" y="443" width="3" height="11" fill="#111"/><rect x="445" y="444" width="1" height="9" fill="#4a7468"/><rect x="449" y="431" width="1" height="22" fill="#000"/><rect x="448" y="433" width="3" height="13" fill="#111"/><rect x="449" y="434" width="1" height="11" fill="#4a7468"/><rect x="454" y="410" width="1" height="26" fill="#000"/><rect x="453" y="411" width="3" height="23" fill="#111"/><rect x="454" y="412" width="1" height="21" fill="#4a7468"/><rect x="458" y="394" width="1" height="29" fill="#000"/><rect x="457" y="396" width="3" height="16" fill="#111"/><rect x="458" y="397" width="1" height="14" fill="#4a7468"/><rect x="463" y="384" width="1" height="28" fill="#000"/><rect x="462" y="395" width="3" height="3" fill="#111"/><rect x="463" y="396" width="1" height="1" fill="#823c42"/><rect x="467" y="394" width="1" height="27" fill="#000"/><rect x="466" y="395" width="3" height="19" fill="#111"/><rect x="467" y="396" width="1" height="17" fill="#823c42"/><rect x="471" y="404" width="1" height="26" fill="#000"/><rect x="470" y="410" width="3" height="6" fill="#111"/><rect x="471" y="411" width="1" height="4" fill="#823c42"/><rect x="476" y="377" width="1" height="39" fill="#000"/><rect x="475" y="380" width="3" height="34" fill="#111"/><rect x="476" y="381" width="1" height="32" fill="#4a7468"/><rect x="480" y="365" width="1" height="18" fill="#000"/><rect x="479" y="368" width="3" height="9" fill="#111"/><rect x="480" y="369" width="1" height="7" fill="#4a7468"/><rect x="484" y="345" width="1" height="27" fill="#000"/><rect x="483" y="347" width="3" height="23" fill="#111"/><rect x="484" y="348" width="1" height="21" fill="#4a7468"/><rect x="489" y="337" width="1" height="26" fill="#000"/><rect x="488" y="350" width="3" height="3" fill="#111"/><rect x="489" y="351" width="1" height="1" fill="#823c42"/><rect x="493" y="321" width="1" height="42" fill="#000"/><rect x="492" y="347" width="3" height="2" fill="#111"/><rect x="498" y="342" width="1" height="62" fill="#000"/><rect x="497" y="347" width="3" height="51" fill="#111"/><rect x="498" y="348" width="1" height="49" fill="#823c42"/><rect x="502" y="366" width="1" height="33" fill="#000"/><rect x="501" y="367" width="3" height="16" fill="#111"/><rect x="502" y="368" width="1" height="14" fill="#823c42"/><rect x="506" y="353" width="1" height="27" fill="#000"/><rect x="505" y="364" width="3" height="3" fill="#111"/><rect x="506" y="365" width="1" height="1" fill="#4a7468"/><rect x="511" y="362" width="1" height="40" fill="#000"/><rect x="510" y="365" width="3" height="15" fill="#111"/><rect x="511" y="366" width="1" height="13" fill="#823c42"/><rect x="515" y="383" width="1" height="30" fill="#000"/><rect x="514" y="383" width="3" height="30" fill="#111"/><rect x="515" y="384" width="1" height="28" fill="#823c42"/><rect x="520" y="402" width="1" height="43" fill="#000"/><rect x="519" y="408" width="3" height="24" fill="#111"/><rect x="520" y="409" width="1" height="22" fill="#823c42"/><rect x="524" y="417" width="1" height="45" fill="#000"/><rect x="523" y="432" width="3" height="8" fill="#111"/><rect x="524" y="433" width="1" height="6" fill="#823c42"/><rect x="528" y="425" width="1" height="28" fill="#000"/><rect x="527" y="441" width="3" height="3" fill="#111"/><rect x="528" y="442" width="1" height="1" fill="#4a7468"/><rect x="533" y="417" width="1" height="36" fill="#000"/><rect x="532" y="444" width="3" height="9" fill="#111"/><rect x="533" y="445" width="1" height="7" fill="#823c42"/><rect x="537" y="446" width="1" height="39" fill="#000"/><rect x="536" y="448" width="3" height="21" fill="#111"/><rect x="537" y="449" width="1" height="19" fill="#823c42"/><rect x="542" y="458" width="1" height="33" fill="#000"/><rect x="541" y="465" width="3" height="5" fill="#111"/><rect x="542" y="466" width="1" height="3" fill="#823c42"/><rect x="546" y="448" width="1" height="30" fill="#000"/><rect x="545" y="455" width="3" height="9" fill="#111"/><rect x="546" y="456" width="1" height="7" fill="#4a7468"/><rect x="550" y="440" width="1" height="34" fill="#000"/><rect x="549" y="455" width="3" height="13" fill="#111"/><rect x="550" y="456" width="1" height="11" fill="#823c42"/><rect x="555" y="451" width="1" height="31" fill="#000"/><rect x="554" y="453" width="3" height="14" fill="#111"/><rect x="555" y="454" width="1" height="12" fill="#4a7468"/><rect x="559" y="444" width="1" height="32" fill="#000"/><rect x="558" y="455" width="3" height="5" fill="#111"/><rect x="559" y="456" width="1" height="3" fill="#823c42"/><rect x="563" y="448" width="1" height="25" fill="#000"/><rect x="562" y="457" width="3" height="5" fill="#111"/><rect x="563" y="458" width="1" height="3" fill="#4a7468"/><rect x="568" y="419" width="1" height="44" fill="#000"/><rect x="567" y="427" width="3" height="28" fill="#111"/><rect x="568" y="428" width="1" height="26" fill="#4a7468"/><rect x="572" y="419" width="1" height="46" fill="#000"/><rect x="571" y="422" width="3" height="42" fill="#111"/><rect x="572" y="423" width="1" height="40" fill="#823c42"/><rect x="577" y="431" width="1" height="37" fill="#000"/><rect x="576" y="434" width="3" height="26" fill="#111"/><rect x="577" y="435" width="1" height="24" fill="#4a7468"/><rect x="581" y="422" width="1" height="20" fill="#000"/><rect x="580" y="424" width="3" height="12" fill="#111"/><rect x="581" y="425" width="1" height="10" fill="#4a7468"/><rect x="585" y="422" width="1" height="19" fill="#000"/><rect x="584" y="425" width="3" height="12" fill="#111"/><rect x="585" y="426" width="1" height="10" fill="#823c42"/><rect x="590" y="409" width="1" height="31" fill="#000"/><rect x="589" y="414" width="3" height="16" fill="#111"/><rect x="590" y="415" width="1" height="14" fill="#4a7468"/><rect x="594" y="412" width="1" height="23" fill="#000"/><rect x="593" y="414" width="3" height="13" fill="#111"/><rect x="594" y="415" width="1" height="11" fill="#823c42"/><rect x="599" y="405" width="1" height="30" fill="#000"/><rect x="598" y="408" width="3" height="20" fill="#111"/><rect x="599" y="409" width="1" height="18" fill="#4a7468"/><rect x="603" y="396" width="1" height="16" fill="#000"/><rect x="602" y="410" width="3" height="2" fill="#111"/><rect x="607" y="395" width="1" height="15" fill="#000"/><rect x="606" y="395" width="3" height="15" fill="#111"/><rect x="607" y="396" width="1" height="13" fill="#4a7468"/><rect x="612" y="367" width="1" height="30" fill="#000"/><rect x="611" y="372" width="3" height="24" fill="#111"/><rect x="612" y="373" width="1" height="22" fill="#4a7468"/><rect x="616" y="367" width="1" height="19" fill="#000"/><rect x="615" y="377" width="3" height="2" fill="#111"/><rect x="620" y="376" width="1" height="32" fill="#000"/><rect x="619" y="378" width="3" height="23" fill="#111"/><rect x="620" y="379" width="1" height="21" fill="#823c42"/><rect x="625" y="387" width="1" height="22" fill="#000"/><rect x="624" y="391" width="3" height="12" fill="#111"/><rect x="625" y="392" width="1" height="10" fill="#4a7468"/><rect x="629" y="390" width="1" height="38" fill="#000"/><rect x="628" y="392" width="3" height="36" fill="#111"/><rect x="629" y="393" width="1" height="34" fill="#823c42"/><rect x="634" y="414" width="1" height="19" fill="#000"/><rect x="633" y="425" width="3" height="2" fill="#111"/><rect x="638" y="416" width="1" height="18" fill="#000"/><rect x="637" y="417" width="3" height="10" fill="#111"/><rect x="638" y="418" width="1" height="8" fill="#4a7468"/><rect x="642" y="414" width="1" height="25" fill="#000"/><rect x="641" y="418" width="3" height="11" fill="#111"/><rect x="642" y="419" width="1" height="9" fill="#823c42"/><rect x="647" y="411" width="1" height="24" fill="#000"/><rect x="646" y="428" width="3" height="6" fill="#111"/><rect x="647" y="429" width="1" height="4" fill="#823c42"/><rect x="651" y="430" width="1" height="32" fill="#000"/><rect x="650" y="434" width="3" height="9" fill="#111"/><rect x="651" y="435" width="1" height="7" fill="#823c42"/><rect x="656" y="422" width="1" height="22" fill="#000"/><rect x="655" y="424" width="3" height="20" fill="#111"/><rect x="656" y="425" width="1" height="18" fill="#4a7468"/><rect x="660" y="405" width="1" height="25" fill="#000"/><rect x="659" y="410" width="3" height="17" fill="#111"/><rect x="660" y="411" width="1" height="15" fill="#4a7468"/><rect x="664" y="398" width="1" height="15" fill="#000"/><rect x="663" y="405" width="3" height="8" fill="#111"/><rect x="664" y="406" width="1" height="6" fill="#4a7468"/><rect x="669" y="386" width="1" height="21" fill="#000"/><rect x="668" y="395" width="3" height="11" fill="#111"/><rect x="669" y="396" width="1" height="9" fill="#4a7468"/><rect x="673" y="388" width="1" height="21" fill="#000"/><rect x="672" y="395" width="3" height="6" fill="#111"/><rect x="673" y="396" width="1" height="4" fill="#823c42"/><rect x="677" y="396" width="1" height="27" fill="#000"/><rect x="676" y="401" width="3" height="22" fill="#111"/><rect x="677" y="402" width="1" height="20" fill="#823c42"/><rect x="682" y="420" width="1" height="14" fill="#000"/><rect x="681" y="421" width="3" height="11" fill="#111"/><rect x="682" y="422" width="1" height="9" fill="#823c42"/><rect x="686" y="422" width="1" height="37" fill="#000"/><rect x="685" y="432" width="3" height="24" fill="#111"/><rect x="686" y="433" width="1" height="22" fill="#823c42"/><rect x="691" y="433" width="1" height="33" fill="#000"/><rect x="690" y="434" width="3" height="18" fill="#111"/><rect x="691" y="435" width="1" height="16" fill="#4a7468"/><rect x="695" y="414" width="1" height="35" fill="#000"/><rect x="694" y="433" width="3" height="10" fill="#111"/><rect x="695" y="434" width="1" height="8" fill="#823c42"/><rect x="699" y="441" width="1" height="26" fill="#000"/><rect x="698" y="443" width="3" height="5" fill="#111"/><rect x="699" y="444" width="1" height="3" fill="#4a7468"/><rect x="704" y="431" width="1" height="25" fill="#000"/><rect x="703" y="445" width="3" height="10" fill="#111"/><rect x="704" y="446" width="1" height="8" fill="#823c42"/><rect x="708" y="451" width="1" height="43" fill="#000"/><rect x="707" y="455" width="3" height="38" fill="#111"/><rect x="708" y="456" width="1" height="36" fill="#823c42"/><rect x="713" y="476" width="1" height="31" fill="#000"/><rect x="712" y="487" width="3" height="2" fill="#111"/><rect x="717" y="465" width="1" height="20" fill="#000"/><rect x="716" y="471" width="3" height="12" fill="#111"/><rect x="717" y="472" width="1" height="10" fill="#4a7468"/><rect x="721" y="463" width="1" height="32" fill="#000"/><rect x="720" y="470" width="3" height="18" fill="#111"/><rect x="721" y="471" width="1" height="16" fill="#823c42"/><rect x="726" y="442" width="1" height="57" fill="#000"/><rect x="725" y="449" width="3" height="38" fill="#111"/><rect x="726" y="450" width="1" height="36" fill="#4a7468"/><rect x="730" y="424" width="1" height="44" fill="#000"/><rect x="729" y="442" width="3" height="9" fill="#111"/><rect x="730" y="443" width="1" height="7" fill="#4a7468"/><rect x="735" y="445" width="1" height="43" fill="#000"/><rect x="734" y="446" width="3" height="40" fill="#111"/><rect x="735" y="447" width="1" height="38" fill="#823c42"/><rect x="739" y="464" width="1" height="28" fill="#000"/><rect x="738" y="465" width="3" height="21" fill="#111"/><rect x="739" y="466" width="1" height="19" fill="#4a7468"/><rect x="743" y="469" width="1" height="29" fill="#000"/><rect x="742" y="480" width="3" height="3" fill="#111"/><rect x="743" y="481" width="1" height="1" fill="#4a7468"/><rect x="748" y="459" width="1" height="19" fill="#000"/><rect x="747" y="475" width="3" height="2" fill="#111"/><rect x="752" y="475" width="1" height="21" fill="#000"/><rect x="751" y="476" width="3" height="20" fill="#111"/><rect x="752" y="477" width="1" height="18" fill="#823c42"/><rect x="756" y="469" width="1" height="30" fill="#000"/><rect x="755" y="469" width="3" height="29" fill="#111"/><rect x="756" y="470" width="1" height="27" fill="#4a7468"/><rect x="761" y="469" width="1" height="21" fill="#000"/><rect x="760" y="469" width="3" height="21" fill="#111"/><rect x="761" y="470" width="1" height="19" fill="#823c42"/><rect x="765" y="475" width="1" height="20" fill="#000"/><rect x="764" y="490" width="3" height="5" fill="#111"/><rect x="765" y="491" width="1" height="3" fill="#823c42"/><rect x="770" y="469" width="1" height="26" fill="#000"/><rect x="769" y="469" width="3" height="26" fill="#111"/><rect x="770" y="470" width="1" height="24" fill="#4a7468"/><rect x="774" y="468" width="1" height="18" fill="#000"/><rect x="773" y="469" width="3" height="12" fill="#111"/><rect x="774" y="470" width="1" height="10" fill="#823c42"/><rect x="778" y="471" width="1" height="11" fill="#000"/><rect x="777" y="473" width="3" height="8" fill="#111"/><rect x="778" y="474" width="1" height="6" fill="#4a7468"/><rect x="783" y="449" width="1" height="27" fill="#000"/><rect x="782" y="452" width="3" height="24" fill="#111"/><rect x="783" y="453" width="1" height="22" fill="#4a7468"/><rect x="787" y="428" width="1" height="30" fill="#000"/><rect x="786" y="436" width="3" height="17" fill="#111"/><rect x="787" y="437" width="1" height="15" fill="#4a7468"/><rect x="792" y="410" width="1" height="27" fill="#000"/><rect x="791" y="431" width="3" height="5" fill="#111"/><rect x="792" y="432" width="1" height="3" fill="#4a7468"/><rect x="796" y="428" width="1" height="23" fill="#000"/><rect x="795" y="430" width="3" height="18" fill="#111"/><rect x="796" y="431" width="1" height="16" fill="#823c42"/><rect x="800" y="445" width="1" height="19" fill="#000"/><rect x="799" y="448" width="3" height="14" fill="#111"/><rect x="800" y="449" width="1" height="12" fill="#823c42"/><rect x="805" y="445" width="1" height="29" fill="#000"/><rect x="804" y="451" width="3" height="21" fill="#111"/><rect x="805" y="452" width="1" height="19" fill="#823c42"/><rect x="809" y="454" width="1" height="22" fill="#000"/><rect x="808" y="471" width="3" height="3" fill="#111"/><rect x="809" y="472" width="1" height="1" fill="#823c42"/><rect x="813" y="458" width="1" height="18" fill="#000"/><rect x="812" y="473" width="3" height="2" fill="#111"/><rect x="818" y="470" width="1" height="17" fill="#000"/><rect x="817" y="477" width="3" height="1" fill="#111"/><rect x="822" y="474" width="1" height="32" fill="#000"/><rect x="821" y="477" width="3" height="19" fill="#111"/><rect x="822" y="478" width="1" height="17" fill="#823c42"/><rect x="827" y="490" width="1" height="16" fill="#000"/><rect x="826" y="495" width="3" height="1" fill="#111"/><rect x="831" y="486" width="1" height="15" fill="#000"/><rect x="830" y="488" width="3" height="6" fill="#111"/><rect x="831" y="489" width="1" height="4" fill="#4a7468"/><rect x="835" y="477" width="1" height="12" fill="#000"/><rect x="834" y="481" width="3" height="7" fill="#111"/><rect x="835" y="482" width="1" height="5" fill="#4a7468"/><rect x="840" y="463" width="1" height="73" fill="#000"/><rect x="839" y="481" width="3" height="47" fill="#111"/><rect x="840" y="482" width="1" height="45" fill="#823c42"/><rect x="844" y="516" width="1" height="54" fill="#000"/><rect x="843" y="530" width="3" height="4" fill="#111"/><rect x="844" y="531" width="1" height="2" fill="#4a7468"/><rect x="849" y="513" width="1" height="23" fill="#000"/><rect x="848" y="515" width="3" height="15" fill="#111"/><rect x="849" y="516" width="1" height="13" fill="#4a7468"/><rect x="853" y="510" width="1" height="20" fill="#000"/><rect x="852" y="517" width="3" height="5" fill="#111"/><rect x="853" y="518" width="1" height="3" fill="#823c42"/><rect x="857" y="515" width="1" height="46" fill="#000"/><rect x="856" y="518" width="3" height="33" fill="#111"/><rect x="857" y="519" width="1" height="31" fill="#823c42"/><rect x="862" y="532" width="1" height="37" fill="#000"/><rect x="861" y="533" width="3" height="28" fill="#111"/><rect x="862" y="534" width="1" height="26" fill="#4a7468"/><rect x="866" y="515" width="1" height="21" fill="#000"/><rect x="865" y="527" width="3" height="5" fill="#111"/><rect x="866" y="528" width="1" height="3" fill="#4a7468"/><rect x="871" y="513" width="1" height="25" fill="#000"/><rect x="870" y="527" width="3" height="4" fill="#111"/><rect x="871" y="528" width="1" height="2" fill="#4a7468"/><rect x="875" y="519" width="1" height="21" fill="#000"/><rect x="874" y="529" width="3" height="6" fill="#111"/><rect x="875" y="530" width="1" height="4" fill="#823c42"/><rect x="879" y="510" width="1" height="24" fill="#000"/><rect x="878" y="511" width="3" height="23" fill="#111"/><rect x="879" y="512" width="1" height="21" fill="#4a7468"/><rect x="884" y="430" width="1" height="82" fill="#000"/><rect x="883" y="459" width="3" height="52" fill="#111"/><rect x="884" y="460" width="1" height="50" fill="#4a7468"/><rect x="888" y="430" width="1" height="50" fill="#000"/><rect x="887" y="436" width="3" height="18" fill="#111"/><rect x="888" y="437" width="1" height="16" fill="#823c42"/><rect x="892" y="425" width="1" height="89" fill="#000"/><rect x="891" y="426" width="3" height="79" fill="#111"/><rect x="892" y="427" width="1" height="77" fill="#823c42"/><rect x="897" y="492" width="1" height="19" fill="#000"/><rect x="896" y="495" width="3" height="13" fill="#111"/><rect x="897" y="496" width="1" height="11" fill="#4a7468"/><rect x="901" y="484" width="1" height="21" fill="#000"/><rect x="900" y="487" width="3" height="17" fill="#111"/><rect x="901" y="488" width="1" height="15" fill="#4a7468"/><rect x="906" y="479" width="1" height="26" fill="#000"/><rect x="905" y="484" width="3" height="18" fill="#111"/><rect x="906" y="485" width="1" height="16" fill="#823c42"/><rect x="910" y="498" width="1" height="12" fill="#000"/><rect x="909" y="502" width="3" height="6" fill="#111"/><rect x="910" y="503" width="1" height="4" fill="#823c42"/><rect x="914" y="475" width="1" height="33" fill="#000"/><rect x="913" y="494" width="3" height="14" fill="#111"/><rect x="914" y="495" width="1" height="12" fill="#4a7468"/><rect x="919" y="491" width="1" height="30" fill="#000"/><rect x="918" y="497" width="3" height="18" fill="#111"/><rect x="919" y="498" width="1" height="16" fill="#823c42"/><rect x="923" y="512" width="1" height="14" fill="#000"/><rect x="922" y="518" width="3" height="5" fill="#111"/><rect x="923" y="519" width="1" height="3" fill="#823c42"/><rect x="928" y="515" width="1" height="15" fill="#000"/><rect x="927" y="517" width="3" height="10" fill="#111"/><rect x="928" y="518" width="1" height="8" fill="#4a7468"/><rect x="932" y="508" width="1" height="13" fill="#000"/><rect x="931" y="515" width="3" height="1" fill="#111"/><rect x="936" y="502" width="1" height="27" fill="#000"/><rect x="935" y="515" width="3" height="14" fill="#111"/><rect x="936" y="516" width="1" height="12" fill="#823c42"/><rect x="941" y="514" width="1" height="15" fill="#000"/><rect x="940" y="523" width="3" height="4" fill="#111"/><rect x="941" y="524" width="1" height="2" fill="#4a7468"/><rect x="945" y="510" width="1" height="15" fill="#000"/><rect x="944" y="521" width="3" height="4" fill="#111"/><rect x="945" y="522" width="1" height="2" fill="#823c42"/><rect x="949" y="499" width="1" height="30" fill="#000"/><rect x="948" y="504" width="3" height="22" fill="#111"/><rect x="949" y="505" width="1" height="20" fill="#4a7468"/><rect x="954" y="507" width="1" height="29" fill="#000"/><rect x="953" y="508" width="3" height="27" fill="#111"/><rect x="954" y="509" width="1" height="25" fill="#823c42"/><rect x="958" y="525" width="1" height="26" fill="#000"/><rect x="957" y="532" width="3" height="14" fill="#111"/><rect x="958" y="533" width="1" height="12" fill="#823c42"/><rect x="963" y="538" width="1" height="26" fill="#000"/><rect x="962" y="546" width="3" height="11" fill="#111"/><rect x="963" y="547" width="1" height="9" fill="#823c42"/><rect x="967" y="520" width="1" height="45" fill="#000"/><rect x="966" y="530" width="3" height="27" fill="#111"/><rect x="967" y="531" width="1" height="25" fill="#4a7468"/><rect x="971" y="521" width="1" height="21" fill="#000"/><rect x="970" y="527" width="3" height="7" fill="#111"/><rect x="971" y="528" width="1" height="5" fill="#823c42"/><rect x="976" y="530" width="1" height="17" fill="#000"/><rect x="975" y="531" width="3" height="10" fill="#111"/><rect x="976" y="532" width="1" height="8" fill="#823c42"/><rect x="980" y="533" width="1" height="18" fill="#000"/><rect x="979" y="538" width="3" height="3" fill="#111"/><rect x="980" y="539" width="1" height="1" fill="#823c42"/><rect x="985" y="536" width="1" height="19" fill="#000"/><rect x="984" y="541" width="3" height="12" fill="#111"/><rect x="985" y="542" width="1" height="10" fill="#823c42"/><rect x="989" y="545" width="1" height="12" fill="#000"/><rect x="988" y="552" width="3" height="5" fill="#111"/><rect x="989" y="553" width="1" height="3" fill="#823c42"/></g>
<rect x="56" y="390" width="1" height="3" fill="#333"/>
<line x1="962" y1="520.5" x2="998" y2="544" stroke="#131313" stroke-width="2.2" stroke-linecap="round"/>
<g><g transform="translate(67.6,604.3)"><circle r="9.4" fill="#fbf7ff" stroke="#5a38bd" stroke-width="1.5"/><path d="M-4.4,-3.4 L0.4,0.2 L6.4,0.2 M3.5,-2.7 L6.4,0.2 L3.5,3.1 M-1.8,2 L-4.4,4.4" fill="none" stroke="#5a38bd" stroke-width="1.35" stroke-linecap="round" stroke-linejoin="round"/></g><g transform="translate(86.3,604.3)"><circle r="9.4" fill="#fbf7ff" stroke="#5a38bd" stroke-width="1.5"/><path d="M-4.4,-3.4 L0.4,0.2 L6.4,0.2 M3.5,-2.7 L6.4,0.2 L3.5,3.1 M-1.8,2 L-4.4,4.4" fill="none" stroke="#5a38bd" stroke-width="1.35" stroke-linecap="round" stroke-linejoin="round"/></g><g transform="translate(108.2,604.3)"><circle r="9.4" fill="#fbf7ff" stroke="#5a38bd" stroke-width="1.5"/><path d="M-4.4,-3.4 L0.4,0.2 L6.4,0.2 M3.5,-2.7 L6.4,0.2 L3.5,3.1 M-1.8,2 L-4.4,4.4" fill="none" stroke="#5a38bd" stroke-width="1.35" stroke-linecap="round" stroke-linejoin="round"/></g><g transform="translate(125.8,604.3)"><circle r="9.4" fill="#fbf7ff" stroke="#5a38bd" stroke-width="1.5"/><path d="M-4.4,-3.4 L0.4,0.2 L6.4,0.2 M3.5,-2.7 L6.4,0.2 L3.5,3.1 M-1.8,2 L-4.4,4.4" fill="none" stroke="#5a38bd" stroke-width="1.35" stroke-linecap="round" stroke-linejoin="round"/></g><g transform="translate(143.3,604.3)"><circle r="9.4" fill="#fbf7ff" stroke="#5a38bd" stroke-width="1.5"/><path d="M-4.4,-3.4 L0.4,0.2 L6.4,0.2 M3.5,-2.7 L6.4,0.2 L3.5,3.1 M-1.8,2 L-4.4,4.4" fill="none" stroke="#5a38bd" stroke-width="1.35" stroke-linecap="round" stroke-linejoin="round"/></g><g transform="translate(165.3,604.3)"><circle r="9.4" fill="#fbf7ff" stroke="#5a38bd" stroke-width="1.5"/><path d="M-4.4,-3.4 L0.4,0.2 L6.4,0.2 M3.5,-2.7 L6.4,0.2 L3.5,3.1 M-1.8,2 L-4.4,4.4" fill="none" stroke="#5a38bd" stroke-width="1.35" stroke-linecap="round" stroke-linejoin="round"/></g><g transform="translate(182.8,604.3)"><circle r="9.4" fill="#fbf7ff" stroke="#5a38bd" stroke-width="1.5"/><path d="M-4.4,-3.4 L0.4,0.2 L6.4,0.2 M3.5,-2.7 L6.4,0.2 L3.5,3.1 M-1.8,2 L-4.4,4.4" fill="none" stroke="#5a38bd" stroke-width="1.35" stroke-linecap="round" stroke-linejoin="round"/></g><g transform="translate(200.4,604.3)"><circle r="9.4" fill="#fbf7ff" stroke="#5a38bd" stroke-width="1.5"/><path d="M-4.4,-3.4 L0.4,0.2 L6.4,0.2 M3.5,-2.7 L6.4,0.2 L3.5,3.1 M-1.8,2 L-4.4,4.4" fill="none" stroke="#5a38bd" stroke-width="1.35" stroke-linecap="round" stroke-linejoin="round"/></g><g transform="translate(217.9,604.3)"><circle r="9.4" fill="#fbf7ff" stroke="#5a38bd" stroke-width="1.5"/><path d="M-4.4,-3.4 L0.4,0.2 L6.4,0.2 M3.5,-2.7 L6.4,0.2 L3.5,3.1 M-1.8,2 L-4.4,4.4" fill="none" stroke="#5a38bd" stroke-width="1.35" stroke-linecap="round" stroke-linejoin="round"/></g><g transform="translate(239.8,604.3)"><circle r="9.4" fill="#fbf7ff" stroke="#5a38bd" stroke-width="1.5"/><path d="M-4.4,-3.4 L0.4,0.2 L6.4,0.2 M3.5,-2.7 L6.4,0.2 L3.5,3.1 M-1.8,2 L-4.4,4.4" fill="none" stroke="#5a38bd" stroke-width="1.35" stroke-linecap="round" stroke-linejoin="round"/></g><g transform="translate(257.4,604.3)"><circle r="9.4" fill="#fbf7ff" stroke="#5a38bd" stroke-width="1.5"/><path d="M-4.4,-3.4 L0.4,0.2 L6.4,0.2 M3.5,-2.7 L6.4,0.2 L3.5,3.1 M-1.8,2 L-4.4,4.4" fill="none" stroke="#5a38bd" stroke-width="1.35" stroke-linecap="round" stroke-linejoin="round"/></g><g transform="translate(279.3,604.3)"><circle r="9.4" fill="#fbf7ff" stroke="#5a38bd" stroke-width="1.5"/><path d="M-4.4,-3.4 L0.4,0.2 L6.4,0.2 M3.5,-2.7 L6.4,0.2 L3.5,3.1 M-1.8,2 L-4.4,4.4" fill="none" stroke="#5a38bd" stroke-width="1.35" stroke-linecap="round" stroke-linejoin="round"/></g><g transform="translate(296.9,604.3)"><circle r="9.4" fill="#fbf7ff" stroke="#5a38bd" stroke-width="1.5"/><path d="M-4.4,-3.4 L0.4,0.2 L6.4,0.2 M3.5,-2.7 L6.4,0.2 L3.5,3.1 M-1.8,2 L-4.4,4.4" fill="none" stroke="#5a38bd" stroke-width="1.35" stroke-linecap="round" stroke-linejoin="round"/></g><g transform="translate(314.4,604.3)"><circle r="9.4" fill="#fbf7ff" stroke="#5a38bd" stroke-width="1.5"/><path d="M-4.4,-3.4 L0.4,0.2 L6.4,0.2 M3.5,-2.7 L6.4,0.2 L3.5,3.1 M-1.8,2 L-4.4,4.4" fill="none" stroke="#5a38bd" stroke-width="1.35" stroke-linecap="round" stroke-linejoin="round"/></g><g transform="translate(336.3,604.3)"><circle r="9.4" fill="#fbf7ff" stroke="#5a38bd" stroke-width="1.5"/><path d="M-4.4,-3.4 L0.4,0.2 L6.4,0.2 M3.5,-2.7 L6.4,0.2 L3.5,3.1 M-1.8,2 L-4.4,4.4" fill="none" stroke="#5a38bd" stroke-width="1.35" stroke-linecap="round" stroke-linejoin="round"/></g><g transform="translate(353.9,604.3)"><circle r="9.4" fill="#fbf7ff" stroke="#5a38bd" stroke-width="1.5"/><path d="M-4.4,-3.4 L0.4,0.2 L6.4,0.2 M3.5,-2.7 L6.4,0.2 L3.5,3.1 M-1.8,2 L-4.4,4.4" fill="none" stroke="#5a38bd" stroke-width="1.35" stroke-linecap="round" stroke-linejoin="round"/></g><g transform="translate(371.4,604.3)"><circle r="9.4" fill="#fbf7ff" stroke="#5a38bd" stroke-width="1.5"/><path d="M-4.4,-3.4 L0.4,0.2 L6.4,0.2 M3.5,-2.7 L6.4,0.2 L3.5,3.1 M-1.8,2 L-4.4,4.4" fill="none" stroke="#5a38bd" stroke-width="1.35" stroke-linecap="round" stroke-linejoin="round"/></g><g transform="translate(393.4,604.3)"><circle r="9.4" fill="#fbf7ff" stroke="#5a38bd" stroke-width="1.5"/><path d="M-4.4,-3.4 L0.4,0.2 L6.4,0.2 M3.5,-2.7 L6.4,0.2 L3.5,3.1 M-1.8,2 L-4.4,4.4" fill="none" stroke="#5a38bd" stroke-width="1.35" stroke-linecap="round" stroke-linejoin="round"/></g><g transform="translate(410.9,604.3)"><circle r="9.4" fill="#fbf7ff" stroke="#5a38bd" stroke-width="1.5"/><path d="M-4.4,-3.4 L0.4,0.2 L6.4,0.2 M3.5,-2.7 L6.4,0.2 L3.5,3.1 M-1.8,2 L-4.4,4.4" fill="none" stroke="#5a38bd" stroke-width="1.35" stroke-linecap="round" stroke-linejoin="round"/></g><g transform="translate(428.5,604.3)"><circle r="9.4" fill="#fbf7ff" stroke="#5a38bd" stroke-width="1.5"/><path d="M-4.4,-3.4 L0.4,0.2 L6.4,0.2 M3.5,-2.7 L6.4,0.2 L3.5,3.1 M-1.8,2 L-4.4,4.4" fill="none" stroke="#5a38bd" stroke-width="1.35" stroke-linecap="round" stroke-linejoin="round"/></g><g transform="translate(450.4,604.3)"><circle r="9.4" fill="#fbf7ff" stroke="#5a38bd" stroke-width="1.5"/><path d="M-4.4,-3.4 L0.4,0.2 L6.4,0.2 M3.5,-2.7 L6.4,0.2 L3.5,3.1 M-1.8,2 L-4.4,4.4" fill="none" stroke="#5a38bd" stroke-width="1.35" stroke-linecap="round" stroke-linejoin="round"/></g><g transform="translate(467.9,604.3)"><circle r="9.4" fill="#fbf7ff" stroke="#5a38bd" stroke-width="1.5"/><path d="M-4.4,-3.4 L0.4,0.2 L6.4,0.2 M3.5,-2.7 L6.4,0.2 L3.5,3.1 M-1.8,2 L-4.4,4.4" fill="none" stroke="#5a38bd" stroke-width="1.35" stroke-linecap="round" stroke-linejoin="round"/></g><g transform="translate(489.9,604.3)"><circle r="9.4" fill="#fbf7ff" stroke="#5a38bd" stroke-width="1.5"/><path d="M-4.4,-3.4 L0.4,0.2 L6.4,0.2 M3.5,-2.7 L6.4,0.2 L3.5,3.1 M-1.8,2 L-4.4,4.4" fill="none" stroke="#5a38bd" stroke-width="1.35" stroke-linecap="round" stroke-linejoin="round"/></g><g transform="translate(507.4,604.3)"><circle r="9.4" fill="#fbf7ff" stroke="#5a38bd" stroke-width="1.5"/><path d="M-4.4,-3.4 L0.4,0.2 L6.4,0.2 M3.5,-2.7 L6.4,0.2 L3.5,3.1 M-1.8,2 L-4.4,4.4" fill="none" stroke="#5a38bd" stroke-width="1.35" stroke-linecap="round" stroke-linejoin="round"/></g><g transform="translate(525.0,604.3)"><circle r="9.4" fill="#fbf7ff" stroke="#5a38bd" stroke-width="1.5"/><path d="M-4.4,-3.4 L0.4,0.2 L6.4,0.2 M3.5,-2.7 L6.4,0.2 L3.5,3.1 M-1.8,2 L-4.4,4.4" fill="none" stroke="#5a38bd" stroke-width="1.35" stroke-linecap="round" stroke-linejoin="round"/></g><g transform="translate(542.5,604.3)"><circle r="9.4" fill="#fbf7ff" stroke="#5a38bd" stroke-width="1.5"/><path d="M-4.4,-3.4 L0.4,0.2 L6.4,0.2 M3.5,-2.7 L6.4,0.2 L3.5,3.1 M-1.8,2 L-4.4,4.4" fill="none" stroke="#5a38bd" stroke-width="1.35" stroke-linecap="round" stroke-linejoin="round"/></g><g transform="translate(564.4,604.3)"><circle r="9.4" fill="#fbf7ff" stroke="#5a38bd" stroke-width="1.5"/><path d="M-4.4,-3.4 L0.4,0.2 L6.4,0.2 M3.5,-2.7 L6.4,0.2 L3.5,3.1 M-1.8,2 L-4.4,4.4" fill="none" stroke="#5a38bd" stroke-width="1.35" stroke-linecap="round" stroke-linejoin="round"/></g><g transform="translate(582.0,604.3)"><circle r="9.4" fill="#fbf7ff" stroke="#5a38bd" stroke-width="1.5"/><path d="M-4.4,-3.4 L0.4,0.2 L6.4,0.2 M3.5,-2.7 L6.4,0.2 L3.5,3.1 M-1.8,2 L-4.4,4.4" fill="none" stroke="#5a38bd" stroke-width="1.35" stroke-linecap="round" stroke-linejoin="round"/></g><g transform="translate(603.9,604.3)"><circle r="9.4" fill="#fbf7ff" stroke="#5a38bd" stroke-width="1.5"/><path d="M-4.4,-3.4 L0.4,0.2 L6.4,0.2 M3.5,-2.7 L6.4,0.2 L3.5,3.1 M-1.8,2 L-4.4,4.4" fill="none" stroke="#5a38bd" stroke-width="1.35" stroke-linecap="round" stroke-linejoin="round"/></g><g transform="translate(621.5,604.3)"><circle r="9.4" fill="#fbf7ff" stroke="#5a38bd" stroke-width="1.5"/><path d="M-4.4,-3.4 L0.4,0.2 L6.4,0.2 M3.5,-2.7 L6.4,0.2 L3.5,3.1 M-1.8,2 L-4.4,4.4" fill="none" stroke="#5a38bd" stroke-width="1.35" stroke-linecap="round" stroke-linejoin="round"/></g><g transform="translate(639.0,604.3)"><circle r="9.4" fill="#fbf7ff" stroke="#5a38bd" stroke-width="1.5"/><path d="M-4.4,-3.4 L0.4,0.2 L6.4,0.2 M3.5,-2.7 L6.4,0.2 L3.5,3.1 M-1.8,2 L-4.4,4.4" fill="none" stroke="#5a38bd" stroke-width="1.35" stroke-linecap="round" stroke-linejoin="round"/></g><g transform="translate(661.0,604.3)"><circle r="9.4" fill="#fbf7ff" stroke="#5a38bd" stroke-width="1.5"/><path d="M-4.4,-3.4 L0.4,0.2 L6.4,0.2 M3.5,-2.7 L6.4,0.2 L3.5,3.1 M-1.8,2 L-4.4,4.4" fill="none" stroke="#5a38bd" stroke-width="1.35" stroke-linecap="round" stroke-linejoin="round"/></g><g transform="translate(678.5,604.3)"><circle r="9.4" fill="#fbf7ff" stroke="#5a38bd" stroke-width="1.5"/><path d="M-4.4,-3.4 L0.4,0.2 L6.4,0.2 M3.5,-2.7 L6.4,0.2 L3.5,3.1 M-1.8,2 L-4.4,4.4" fill="none" stroke="#5a38bd" stroke-width="1.35" stroke-linecap="round" stroke-linejoin="round"/></g><g transform="translate(696.0,604.3)"><circle r="9.4" fill="#fbf7ff" stroke="#5a38bd" stroke-width="1.5"/><path d="M-4.4,-3.4 L0.4,0.2 L6.4,0.2 M3.5,-2.7 L6.4,0.2 L3.5,3.1 M-1.8,2 L-4.4,4.4" fill="none" stroke="#5a38bd" stroke-width="1.35" stroke-linecap="round" stroke-linejoin="round"/></g><g transform="translate(718.0,604.3)"><circle r="9.4" fill="#fbf7ff" stroke="#5a38bd" stroke-width="1.5"/><path d="M-4.4,-3.4 L0.4,0.2 L6.4,0.2 M3.5,-2.7 L6.4,0.2 L3.5,3.1 M-1.8,2 L-4.4,4.4" fill="none" stroke="#5a38bd" stroke-width="1.35" stroke-linecap="round" stroke-linejoin="round"/></g><g transform="translate(735.5,604.3)"><circle r="9.4" fill="#fbf7ff" stroke="#5a38bd" stroke-width="1.5"/><path d="M-4.4,-3.4 L0.4,0.2 L6.4,0.2 M3.5,-2.7 L6.4,0.2 L3.5,3.1 M-1.8,2 L-4.4,4.4" fill="none" stroke="#5a38bd" stroke-width="1.35" stroke-linecap="round" stroke-linejoin="round"/></g><g transform="translate(757.5,604.3)"><circle r="9.4" fill="#fbf7ff" stroke="#5a38bd" stroke-width="1.5"/><path d="M-4.4,-3.4 L0.4,0.2 L6.4,0.2 M3.5,-2.7 L6.4,0.2 L3.5,3.1 M-1.8,2 L-4.4,4.4" fill="none" stroke="#5a38bd" stroke-width="1.35" stroke-linecap="round" stroke-linejoin="round"/></g><g transform="translate(775.0,604.3)"><circle r="9.4" fill="#fbf7ff" stroke="#5a38bd" stroke-width="1.5"/><path d="M-4.4,-3.4 L0.4,0.2 L6.4,0.2 M3.5,-2.7 L6.4,0.2 L3.5,3.1 M-1.8,2 L-4.4,4.4" fill="none" stroke="#5a38bd" stroke-width="1.35" stroke-linecap="round" stroke-linejoin="round"/></g><g transform="translate(792.6,604.3)"><circle r="9.4" fill="#fbf7ff" stroke="#5a38bd" stroke-width="1.5"/><path d="M-4.4,-3.4 L0.4,0.2 L6.4,0.2 M3.5,-2.7 L6.4,0.2 L3.5,3.1 M-1.8,2 L-4.4,4.4" fill="none" stroke="#5a38bd" stroke-width="1.35" stroke-linecap="round" stroke-linejoin="round"/></g><g transform="translate(814.5,604.3)"><circle r="9.4" fill="#fbf7ff" stroke="#5a38bd" stroke-width="1.5"/><path d="M-4.4,-3.4 L0.4,0.2 L6.4,0.2 M3.5,-2.7 L6.4,0.2 L3.5,3.1 M-1.8,2 L-4.4,4.4" fill="none" stroke="#5a38bd" stroke-width="1.35" stroke-linecap="round" stroke-linejoin="round"/></g><g transform="translate(832.0,604.3)"><circle r="9.4" fill="#fbf7ff" stroke="#5a38bd" stroke-width="1.5"/><path d="M-4.4,-3.4 L0.4,0.2 L6.4,0.2 M3.5,-2.7 L6.4,0.2 L3.5,3.1 M-1.8,2 L-4.4,4.4" fill="none" stroke="#5a38bd" stroke-width="1.35" stroke-linecap="round" stroke-linejoin="round"/></g><g transform="translate(849.6,604.3)"><circle r="9.4" fill="#fbf7ff" stroke="#5a38bd" stroke-width="1.5"/><path d="M-4.4,-3.4 L0.4,0.2 L6.4,0.2 M3.5,-2.7 L6.4,0.2 L3.5,3.1 M-1.8,2 L-4.4,4.4" fill="none" stroke="#5a38bd" stroke-width="1.35" stroke-linecap="round" stroke-linejoin="round"/></g><g transform="translate(867.1,604.3)"><circle r="9.4" fill="#fbf7ff" stroke="#5a38bd" stroke-width="1.5"/><path d="M-4.4,-3.4 L0.4,0.2 L6.4,0.2 M3.5,-2.7 L6.4,0.2 L3.5,3.1 M-1.8,2 L-4.4,4.4" fill="none" stroke="#5a38bd" stroke-width="1.35" stroke-linecap="round" stroke-linejoin="round"/></g><g transform="translate(889.1,604.3)"><circle r="9.4" fill="#fbf7ff" stroke="#5a38bd" stroke-width="1.5"/><path d="M-4.4,-3.4 L0.4,0.2 L6.4,0.2 M3.5,-2.7 L6.4,0.2 L3.5,3.1 M-1.8,2 L-4.4,4.4" fill="none" stroke="#5a38bd" stroke-width="1.35" stroke-linecap="round" stroke-linejoin="round"/></g><g transform="translate(906.6,604.3)"><circle r="9.4" fill="#fbf7ff" stroke="#5a38bd" stroke-width="1.5"/><path d="M-4.4,-3.4 L0.4,0.2 L6.4,0.2 M3.5,-2.7 L6.4,0.2 L3.5,3.1 M-1.8,2 L-4.4,4.4" fill="none" stroke="#5a38bd" stroke-width="1.35" stroke-linecap="round" stroke-linejoin="round"/></g><g transform="translate(928.5,604.3)"><circle r="9.4" fill="#fbf7ff" stroke="#5a38bd" stroke-width="1.5"/><path d="M-4.4,-3.4 L0.4,0.2 L6.4,0.2 M3.5,-2.7 L6.4,0.2 L3.5,3.1 M-1.8,2 L-4.4,4.4" fill="none" stroke="#5a38bd" stroke-width="1.35" stroke-linecap="round" stroke-linejoin="round"/></g><g transform="translate(946.1,604.3)"><circle r="9.4" fill="#fbf7ff" stroke="#5a38bd" stroke-width="1.5"/><path d="M-4.4,-3.4 L0.4,0.2 L6.4,0.2 M3.5,-2.7 L6.4,0.2 L3.5,3.1 M-1.8,2 L-4.4,4.4" fill="none" stroke="#5a38bd" stroke-width="1.35" stroke-linecap="round" stroke-linejoin="round"/></g><g transform="translate(963.6,604.3)"><circle r="9.4" fill="#fbf7ff" stroke="#5a38bd" stroke-width="1.5"/><path d="M-4.4,-3.4 L0.4,0.2 L6.4,0.2 M3.5,-2.7 L6.4,0.2 L3.5,3.1 M-1.8,2 L-4.4,4.4" fill="none" stroke="#5a38bd" stroke-width="1.35" stroke-linecap="round" stroke-linejoin="round"/></g><g transform="translate(985.6,604.3)"><circle r="9.4" fill="#fbf7ff" stroke="#5a38bd" stroke-width="1.5"/><path d="M-4.4,-3.4 L0.4,0.2 L6.4,0.2 M3.5,-2.7 L6.4,0.2 L3.5,3.1 M-1.8,2 L-4.4,4.4" fill="none" stroke="#5a38bd" stroke-width="1.35" stroke-linecap="round" stroke-linejoin="round"/></g><g transform="translate(1003.1,604.3)"><circle r="9.4" fill="#fbf7ff" stroke="#5a38bd" stroke-width="1.5"/><path d="M-4.4,-3.4 L0.4,0.2 L6.4,0.2 M3.5,-2.7 L6.4,0.2 L3.5,3.1 M-1.8,2 L-4.4,4.4" fill="none" stroke="#5a38bd" stroke-width="1.35" stroke-linecap="round" stroke-linejoin="round"/></g><g transform="translate(1020.7,604.3)"><circle r="9.4" fill="#fbf7ff" stroke="#5a38bd" stroke-width="1.5"/><path d="M-4.4,-3.4 L0.4,0.2 L6.4,0.2 M3.5,-2.7 L6.4,0.2 L3.5,3.1 M-1.8,2 L-4.4,4.4" fill="none" stroke="#5a38bd" stroke-width="1.35" stroke-linecap="round" stroke-linejoin="round"/></g><g transform="translate(1042.6,604.3)"><circle r="9.4" fill="#fbf7ff" stroke="#5a38bd" stroke-width="1.5"/><path d="M-4.4,-3.4 L0.4,0.2 L6.4,0.2 M3.5,-2.7 L6.4,0.2 L3.5,3.1 M-1.8,2 L-4.4,4.4" fill="none" stroke="#5a38bd" stroke-width="1.35" stroke-linecap="round" stroke-linejoin="round"/></g><g transform="translate(1060.1,604.3)"><circle r="9.4" fill="#fbf7ff" stroke="#5a38bd" stroke-width="1.5"/><path d="M-4.4,-3.4 L0.4,0.2 L6.4,0.2 M3.5,-2.7 L6.4,0.2 L3.5,3.1 M-1.8,2 L-4.4,4.4" fill="none" stroke="#5a38bd" stroke-width="1.35" stroke-linecap="round" stroke-linejoin="round"/></g><g transform="translate(1077.7,604.3)"><circle r="9.4" fill="#fbf7ff" stroke="#5a38bd" stroke-width="1.5"/><path d="M-4.4,-3.4 L0.4,0.2 L6.4,0.2 M3.5,-2.7 L6.4,0.2 L3.5,3.1 M-1.8,2 L-4.4,4.4" fill="none" stroke="#5a38bd" stroke-width="1.35" stroke-linecap="round" stroke-linejoin="round"/></g><g transform="translate(1095.2,604.3)"><circle r="9.4" fill="#fbf7ff" stroke="#5a38bd" stroke-width="1.5"/><path d="M-4.4,-3.4 L0.4,0.2 L6.4,0.2 M3.5,-2.7 L6.4,0.2 L3.5,3.1 M-1.8,2 L-4.4,4.4" fill="none" stroke="#5a38bd" stroke-width="1.35" stroke-linecap="round" stroke-linejoin="round"/></g><g transform="translate(1117.2,604.3)"><circle r="9.4" fill="#fbf7ff" stroke="#5a38bd" stroke-width="1.5"/><path d="M-4.4,-3.4 L0.4,0.2 L6.4,0.2 M3.5,-2.7 L6.4,0.2 L3.5,3.1 M-1.8,2 L-4.4,4.4" fill="none" stroke="#5a38bd" stroke-width="1.35" stroke-linecap="round" stroke-linejoin="round"/></g><g transform="translate(1134.7,604.3)"><circle r="9.4" fill="#fbf7ff" stroke="#5a38bd" stroke-width="1.5"/><path d="M-4.4,-3.4 L0.4,0.2 L6.4,0.2 M3.5,-2.7 L6.4,0.2 L3.5,3.1 M-1.8,2 L-4.4,4.4" fill="none" stroke="#5a38bd" stroke-width="1.35" stroke-linecap="round" stroke-linejoin="round"/></g><g transform="translate(1156.6,604.3)"><circle r="9.4" fill="#fbf7ff" stroke="#5a38bd" stroke-width="1.5"/><path d="M-4.4,-3.4 L0.4,0.2 L6.4,0.2 M3.5,-2.7 L6.4,0.2 L3.5,3.1 M-1.8,2 L-4.4,4.4" fill="none" stroke="#5a38bd" stroke-width="1.35" stroke-linecap="round" stroke-linejoin="round"/></g></g>
<g stroke="#fff" stroke-width="4" paint-order="stroke" stroke-linejoin="round"><path d="M68,588H79.9V602.7H73.9V593.3H68Z" fill="#131313"/><circle cx="84.8" cy="590.5" r="2.6" fill="#131313"/><path d="M91.9,588H97.7L91.4,602.7H85.6Z" fill="#131313"/><text x="105.2" y="602.7" font-size="21.4" font-weight="bold" fill="#131313" textLength="121" lengthAdjust="spacingAndGlyphs">TradingView</text></g>
</g>
<circle cx="25.8" cy="18.9" r="12.8" fill="#a07d69"/>
<text x="25.8" y="24.87" font-size="18.5" font-weight="normal" fill="#fff" text-anchor="middle" stroke="#fff" stroke-width="0.6">T</text>
<circle cx="41.9" cy="10.2" r="8.6" fill="#fff"/><circle cx="41.9" cy="10.2" r="7.6" fill="#e8344a"/>
<text x="41.9" y="13.75" font-size="10" font-weight="bold" fill="#fff" text-anchor="middle" >2</text>
<circle cx="70" cy="18" r="5.2" fill="none" stroke="#131722" stroke-width="1.6"/><line x1="73.8" y1="21.8" x2="77.5" y2="25.5" stroke="#131722" stroke-width="1.6" stroke-linecap="round"/>
<text x="84.3" y="23.79" font-size="13.5" font-weight="bold" fill="#131722" text-anchor="start" textLength="28" lengthAdjust="spacingAndGlyphs" >CL1!</text>
<circle cx="170.4" cy="19.3" r="9" fill="none" stroke="#131722" stroke-width="1.2"/><path d="M170.4,14.3V24.3M165.4,19.3H175.4" stroke="#131722" stroke-width="1.2"/>
<rect x="194.2" y="8.5" width="1" height="21" fill="#e0e3eb"/>
<rect x="240.1" y="8.5" width="1" height="21" fill="#e0e3eb"/>
<rect x="286.6" y="8.5" width="1" height="21" fill="#e0e3eb"/>
<rect x="466.9" y="8.5" width="1" height="21" fill="#e0e3eb"/>
<rect x="642.2" y="8.5" width="1" height="21" fill="#e0e3eb"/>
<rect x="1045.1" y="8.5" width="1" height="21" fill="#e0e3eb"/>
<text x="211.9" y="23.22" font-size="13" font-weight="normal" fill="#131722" text-anchor="start" textLength="11.5" lengthAdjust="spacingAndGlyphs" >W</text>
<path d="M260.4,9V28.8M268.6,12V25.3" stroke="#131722" stroke-width="1.2"/><rect x="258.3" y="12.4" width="4.2" height="13.3" fill="#fff" stroke="#131722" stroke-width="1.2"/><rect x="266.5" y="15.5" width="4.2" height="7.3" fill="#fff" stroke="#131722" stroke-width="1.2"/>
<path d="M303,16.4L308.1,11.9L312.7,15L319.7,10" fill="none" stroke="#131722" stroke-width="1.2"/><path d="M303.6,27.4V23.6H307.3V27.4ZM307.3,27.4V20.4H311.4V27.4ZM311.4,27.4V22.8H315.5V27.4ZM315.5,27.4V17.6H319.6V27.4Z" fill="none" stroke="#131722" stroke-width="1.2" stroke-linejoin="round"/>
<text x="329.1" y="23.97" font-size="14" font-weight="normal" fill="#131722" text-anchor="start" textLength="61.2" lengthAdjust="spacingAndGlyphs" >Indicators</text>
<path d="M408.8,17.2L412.8,20.9L416.8,17.2" fill="none" stroke="#131722" stroke-width="1.2"/>
<rect x="436.5" y="11.8" width="6.2" height="6.2" rx="1.8" fill="none" stroke="#131722" stroke-width="1.2"/>
<rect x="436.5" y="20.3" width="6.2" height="6.2" rx="1.8" fill="none" stroke="#131722" stroke-width="1.2"/>
<rect x="445.5" y="11.8" width="6.2" height="6.2" rx="1.8" fill="none" stroke="#131722" stroke-width="1.2"/>
<rect x="445.5" y="20.3" width="6.2" height="6.2" rx="1.8" fill="none" stroke="#131722" stroke-width="1.2"/>
<path d="M498.5,19.5A8,8 0 1 0 490.5,27.5M490.5,14.2V19.5H487.2M481,13.7L484.7,9.8M496.2,9.8L499.8,13.7M496.5,21.4V29.8M492.1,25.5H500.8" fill="none" stroke="#131722" stroke-width="1.2"/>
<text x="509.4" y="23.97" font-size="14" font-weight="normal" fill="#131722" text-anchor="start" textLength="30.2" lengthAdjust="spacingAndGlyphs" >Alert</text>
<path d="M568.3,14.1L562.3,19.4L568.3,24.7ZM576.4,14.1L570.4,19.4L576.4,24.7Z" fill="none" stroke="#131722" stroke-width="1.2" stroke-linejoin="round"/>
<text x="587.4" y="23.97" font-size="14" font-weight="normal" fill="#131722" text-anchor="start" textLength="40.8" lengthAdjust="spacingAndGlyphs" >Replay</text>
<path d="M673,24.5V21.5Q673,16.5 668,16.5H659M662.5,12.8L658.8,16.5L662.5,20.2" fill="none" stroke="#131722" stroke-width="1.3" stroke-linecap="round" stroke-linejoin="round"/>
<path d="M697,24.5V21.5Q697,16.5 702,16.5H710.5M707,12.8L710.7,16.5L707,20.2" fill="none" stroke="#a8abb3" stroke-width="1.2" stroke-linecap="round" stroke-linejoin="round"/>
<rect x="919.8" y="11.6" width="17.6" height="15.6" rx="2.5" fill="none" stroke="#131722" stroke-width="1.5"/>
<text x="953.2" y="18.79" font-size="13.5" font-weight="normal" fill="#131722" text-anchor="start" textLength="57.6" lengthAdjust="spacingAndGlyphs" >Unnamed</text>
<text x="972" y="29.95" font-size="10" font-weight="normal" fill="#3f67ad" text-anchor="start" textLength="20" lengthAdjust="spacingAndGlyphs" >Save</text>
<path d="M1025,17.2L1029,20.9L1033,17.2" fill="none" stroke="#131722" stroke-width="1.2"/>
<path d="M1065.3,11.4A7.2,7.2 0 1 0 1074.6,18.3M1072.8,23.8L1077.7,28.8" fill="none" stroke="#131722" stroke-width="1.2"/><path d="M1070.9,8.3L1066.4,14.6L1069.6,15L1070.1,20.3L1074.6,13.9L1071.5,13.3Z" fill="none" stroke="#131722" stroke-width="1.2" stroke-linejoin="round"/>
<path d="M1102,10.5H1112L1117,19L1112,27.5H1102L1097,19Z" fill="none" stroke="#131722" stroke-width="1.2" stroke-linejoin="round"/><circle cx="1107" cy="19" r="3.9" fill="none" stroke="#131722" stroke-width="1.2"/>
<path d="M1137.6,15V12.8Q1137.6,11.4 1139,11.4H1141.5M1148.5,11.4H1151Q1152.5,11.4 1152.5,12.8V15M1152.5,22.5V24.8Q1152.5,26.2 1151,26.2H1148.5M1141.5,26.2H1139Q1137.6,26.2 1137.6,24.8V22.5" fill="none" stroke="#131722" stroke-width="1.3"/>
<path d="M1172.8,14.2Q1172.8,13 1174,13H1177L1178.6,10.6H1186L1187.6,13H1191Q1192.2,13 1192.2,14.2V25Q1192.2,26.2 1191,26.2H1174Q1172.8,26.2 1172.8,25Z" fill="none" stroke="#131722" stroke-width="1.2" stroke-linejoin="round"/><circle cx="1182.4" cy="19.3" r="4.2" fill="none" stroke="#131722" stroke-width="1.2"/>
<rect x="1206.2" y="5" width="68.8" height="27.8" rx="13.9" fill="#262626"/>
<text x="1218.8" y="24.25" font-size="14.5" font-weight="normal" fill="#fff" text-anchor="start" textLength="43.7" lengthAdjust="spacingAndGlyphs" stroke="#fff" stroke-width="0.45">Publish</text>
<path d="M72.2,50H84V66.4H72.2A8.2,8.2 0 0 1 72.2,50Z" fill="#dff0ed"/><path d="M84,50H95.9A8.2,8.2 0 0 1 95.9,66.4H84Z" fill="#fde3bf"/>
<circle cx="75" cy="58.1" r="4" fill="#1b8f7a"/>
<text x="92.8" y="62.54" font-size="12.5" font-weight="bold" fill="#ee9a2a" text-anchor="middle" textLength="8.5" lengthAdjust="spacingAndGlyphs" >D</text>
<text x="111.7" y="62.72" font-size="13" font-weight="normal" fill="#131722" text-anchor="start" textLength="272.8" lengthAdjust="spacingAndGlyphs" >O58.05&#160;&#160;H59.06&#160;&#160;L57.14&#160;&#160;C57.23&#160;&#160;−0.83&#160;(−1.43%)</text>
<text x="65" y="86.64" font-size="12.5" font-weight="normal" fill="#131722" text-anchor="start" textLength="17.3" lengthAdjust="spacingAndGlyphs" >Vol</text>
<text x="90.6" y="86.64" font-size="12.5" font-weight="normal" fill="#d65a5e" text-anchor="start" textLength="41.5" lengthAdjust="spacingAndGlyphs" >400.3&#160;K</text>
<text x="65" y="110.64" font-size="12.5" font-weight="normal" fill="#131722" text-anchor="start" textLength="23.5" lengthAdjust="spacingAndGlyphs" >EMA</text>
<text x="96.5" y="110.64" font-size="12.5" font-weight="normal" fill="#c9515a" text-anchor="start" textLength="31.8" lengthAdjust="spacingAndGlyphs" >65.00</text>
<text x="65" y="134.64" font-size="12.5" font-weight="normal" fill="#131722" text-anchor="start" textLength="23.5" lengthAdjust="spacingAndGlyphs" >EMA</text>
<text x="96.5" y="134.64" font-size="12.5" font-weight="normal" fill="#3a3ba3" text-anchor="start" textLength="31.8" lengthAdjust="spacingAndGlyphs" >71.09</text>
<rect x="65.2" y="145.2" width="27" height="19.8" rx="3" fill="#fff" stroke="#dfe1e6" stroke-width="1"/><path d="M74.7,157L78.7,153L82.7,157" fill="none" stroke="#131722" stroke-width="1.4"/>
<text x="1176.3" y="76.22" font-size="13" font-weight="normal" fill="#131722" text-anchor="start" textLength="35.4" lengthAdjust="spacingAndGlyphs" >135.00</text>
<text x="1176.3" y="107.45" font-size="13" font-weight="normal" fill="#131722" text-anchor="start" textLength="35.4" lengthAdjust="spacingAndGlyphs" >130.00</text>
<text x="1176.3" y="138.69" font-size="13" font-weight="normal" fill="#131722" text-anchor="start" textLength="35.4" lengthAdjust="spacingAndGlyphs" >125.00</text>
<text x="1176.3" y="169.93" font-size="13" font-weight="normal" fill="#131722" text-anchor="start" textLength="35.4" lengthAdjust="spacingAndGlyphs" >120.00</text>
<text x="1176.3" y="201.17" font-size="13" font-weight="normal" fill="#131722" text-anchor="start" textLength="35.4" lengthAdjust="spacingAndGlyphs" >115.00</text>
<text x="1176.3" y="232.40" font-size="13" font-weight="normal" fill="#131722" text-anchor="start" textLength="35.4" lengthAdjust="spacingAndGlyphs" >110.00</text>
<text x="1176.3" y="263.64" font-size="13" font-weight="normal" fill="#131722" text-anchor="start" textLength="35.4" lengthAdjust="spacingAndGlyphs" >105.00</text>
<text x="1176.3" y="294.88" font-size="13" font-weight="normal" fill="#131722" text-anchor="start" textLength="35.4" lengthAdjust="spacingAndGlyphs" >100.00</text>
<text x="1176.3" y="326.12" font-size="13" font-weight="normal" fill="#131722" text-anchor="start" textLength="29.1" lengthAdjust="spacingAndGlyphs" >95.00</text>
<text x="1176.3" y="357.35" font-size="13" font-weight="normal" fill="#131722" text-anchor="start" textLength="29.1" lengthAdjust="spacingAndGlyphs" >90.00</text>
<text x="1176.3" y="388.59" font-size="13" font-weight="normal" fill="#131722" text-anchor="start" textLength="29.1" lengthAdjust="spacingAndGlyphs" >85.00</text>
<text x="1176.3" y="419.83" font-size="13" font-weight="normal" fill="#131722" text-anchor="start" textLength="29.1" lengthAdjust="spacingAndGlyphs" >80.00</text>
<text x="1176.3" y="451.06" font-size="13" font-weight="normal" fill="#131722" text-anchor="start" textLength="29.1" lengthAdjust="spacingAndGlyphs" >75.00</text>
<text x="1176.3" y="482.30" font-size="13" font-weight="normal" fill="#131722" text-anchor="start" textLength="29.1" lengthAdjust="spacingAndGlyphs" >70.00</text>
<path d="M1168,462.7H1209Q1211,462.7 1211,464.7V476.4Q1211,478.4 1209,478.4H1168Z" fill="#2d2fe0"/><text x="1176.2" y="475.16" font-size="13" font-weight="bold" fill="#fff" text-anchor="start" textLength="29.1" lengthAdjust="spacingAndGlyphs" >71.09</text>
<path d="M1168,498.5H1209Q1211,498.5 1211,500.5V512.2Q1211,514.2 1209,514.2H1168Z" fill="#e8404f"/><text x="1176.2" y="510.97" font-size="13" font-weight="bold" fill="#fff" text-anchor="start" textLength="29.1" lengthAdjust="spacingAndGlyphs" >65.00</text>
<path d="M1168,516.2H1209Q1211,516.2 1211,518.2V529.6Q1211,531.6 1209,531.6H1168Z" fill="#2f6fe2"/><text x="1176.2" y="528.52" font-size="13" font-weight="bold" fill="#fff" text-anchor="start" textLength="29.1" lengthAdjust="spacingAndGlyphs" >62.00</text>
<path d="M1168,533H1209Q1211,533 1211,535V546.4Q1211,548.4 1209,548.4H1168Z" fill="#2f6fe2"/><text x="1176.2" y="545.32" font-size="13" font-weight="bold" fill="#fff" text-anchor="start" textLength="29.1" lengthAdjust="spacingAndGlyphs" >60.00</text>
<path d="M1168,549.4H1209Q1211,549.4 1211,551.4V577Q1211,579 1209,579H1168Z" fill="#e8404f"/>
<text x="1176.2" y="561.91" font-size="13" font-weight="bold" fill="#fff" text-anchor="start" textLength="29.1" lengthAdjust="spacingAndGlyphs" >57.23</text>
<text x="1176.2" y="575.82" font-size="13" font-weight="bold" fill="#fde0e3" text-anchor="start" textLength="29.1" lengthAdjust="spacingAndGlyphs" >3d 4h</text>
<path d="M1168,580.8H1209Q1211,580.8 1211,582.8V594.2Q1211,596.2 1209,596.2H1168Z" fill="#2f6fe2"/><text x="1176.2" y="593.12" font-size="13" font-weight="bold" fill="#fff" text-anchor="start" textLength="29.1" lengthAdjust="spacingAndGlyphs" >55.00</text>
<path d="M1168,597H1217.8Q1219.8,597 1219.8,599V611.2Q1219.8,613.2 1217.8,613.2H1168Z" fill="#e25a5e"/>
<text x="1176.2" y="609.72" font-size="13" font-weight="bold" fill="#fff" text-anchor="start" textLength="37.5" lengthAdjust="spacingAndGlyphs" >400.3&#160;K</text>
<rect x="1114.3" y="549" width="51.8" height="16.6" rx="2" fill="#e8404f"/>
<text x="1140.2" y="561.74" font-size="12.5" font-weight="normal" fill="#fff" text-anchor="middle" textLength="45.5" lengthAdjust="spacingAndGlyphs" >CLF2026</text>
<text x="99.2" y="635.04" font-size="12.5" font-weight="bold" fill="#131722" text-anchor="middle" textLength="27" lengthAdjust="spacingAndGlyphs" >2022</text>
<text x="212.9" y="635.04" font-size="12.5" font-weight="normal" fill="#131722" text-anchor="middle" textLength="17" lengthAdjust="spacingAndGlyphs" >Jul</text>
<text x="327" y="635.04" font-size="12.5" font-weight="bold" fill="#131722" text-anchor="middle" textLength="27" lengthAdjust="spacingAndGlyphs" >2023</text>
<text x="440" y="635.04" font-size="12.5" font-weight="normal" fill="#131722" text-anchor="middle" textLength="17" lengthAdjust="spacingAndGlyphs" >Jul</text>
<text x="555" y="635.04" font-size="12.5" font-weight="bold" fill="#131722" text-anchor="middle" textLength="27" lengthAdjust="spacingAndGlyphs" >2024</text>
<text x="668" y="635.04" font-size="12.5" font-weight="normal" fill="#131722" text-anchor="middle" textLength="17" lengthAdjust="spacingAndGlyphs" >Jul</text>
<text x="787" y="635.04" font-size="12.5" font-weight="bold" fill="#131722" text-anchor="middle" textLength="27" lengthAdjust="spacingAndGlyphs" >2025</text>
<text x="901" y="635.04" font-size="12.5" font-weight="normal" fill="#131722" text-anchor="middle" textLength="17" lengthAdjust="spacingAndGlyphs" >Jul</text>
<text x="1015" y="635.04" font-size="12.5" font-weight="bold" fill="#131722" text-anchor="middle" textLength="27" lengthAdjust="spacingAndGlyphs" >2026</text>
<text x="1129" y="635.04" font-size="12.5" font-weight="normal" fill="#131722" text-anchor="middle" textLength="17" lengthAdjust="spacingAndGlyphs" >Jul</text>
<path d="M1195.3,625.2H1202.7L1206.2,631L1202.7,636.8H1195.3L1191.8,631Z" fill="none" stroke="#131722" stroke-width="1.1" stroke-linejoin="round"/><circle cx="1199" cy="631" r="2.3" fill="none" stroke="#131722" stroke-width="1.1"/>
<rect x="56" y="645" width="1175" height="1" fill="#e9eaee"/>
<text x="70" y="669.82" font-size="13" font-weight="normal" fill="#131722" text-anchor="start" textLength="15.6" lengthAdjust="spacingAndGlyphs" >1D</text>
<text x="98" y="669.82" font-size="13" font-weight="normal" fill="#131722" text-anchor="start" textLength="15.7" lengthAdjust="spacingAndGlyphs" >5D</text>
<text x="126" y="669.82" font-size="13" font-weight="normal" fill="#131722" text-anchor="start" textLength="17" lengthAdjust="spacingAndGlyphs" >1M</text>
<text x="155" y="669.82" font-size="13" font-weight="normal" fill="#131722" text-anchor="start" textLength="17" lengthAdjust="spacingAndGlyphs" >3M</text>
<text x="184" y="669.82" font-size="13" font-weight="normal" fill="#131722" text-anchor="start" textLength="18" lengthAdjust="spacingAndGlyphs" >6M</text>
<text x="213.5" y="669.82" font-size="13" font-weight="normal" fill="#131722" text-anchor="start" textLength="24.5" lengthAdjust="spacingAndGlyphs" >YTD</text>
<text x="251" y="669.82" font-size="13" font-weight="normal" fill="#131722" text-anchor="start" textLength="14" lengthAdjust="spacingAndGlyphs" >1Y</text>
<text x="277.6" y="669.82" font-size="13" font-weight="normal" fill="#131722" text-anchor="start" textLength="15.4" lengthAdjust="spacingAndGlyphs" >5Y</text>
<text x="305" y="669.82" font-size="13" font-weight="normal" fill="#131722" text-anchor="start" textLength="16" lengthAdjust="spacingAndGlyphs" >All</text>
<rect x="332" y="653" width="1" height="24" fill="#e0e3eb"/>
<path d="M350,661V658.5Q350,657 351.5,657H363.5Q365,657 365,658.5V671.5Q365,673 363.5,673H355M350,661H365M354.5,655V659M360.5,655V659M346.5,668.8H353M351,666.5L353.3,668.8L351,671" fill="none" stroke="#131722" stroke-width="1.2"/>
<text x="1129" y="669.82" font-size="13" font-weight="normal" fill="#131722" text-anchor="end" textLength="84" lengthAdjust="spacingAndGlyphs" >16:01:44&#160;UTC</text>
<rect x="1140" y="653" width="1" height="24" fill="#e0e3eb"/>
<text x="1150.5" y="669.82" font-size="13" font-weight="normal" fill="#131722" text-anchor="start" textLength="36.5" lengthAdjust="spacingAndGlyphs" >B-ADJ</text>
<rect x="1195" y="648.4" width="29.6" height="33" rx="4" fill="#ebebeb"/>
<text x="1199" y="669.82" font-size="13" font-weight="normal" fill="#131722" text-anchor="start" textLength="21.5" lengthAdjust="spacingAndGlyphs" >SET</text>
<text x="72.5" y="711.79" font-size="13.5" font-weight="normal" fill="#131722" text-anchor="start" textLength="67.5" lengthAdjust="spacingAndGlyphs" >Pine Editor</text>
<text x="173.2" y="711.79" font-size="13.5" font-weight="normal" fill="#131722" text-anchor="start" textLength="83" lengthAdjust="spacingAndGlyphs" >Trading Panel</text>
<path d="M1168.2,710.5L1176.8,702.4L1185.4,710.5" fill="none" stroke="#131722" stroke-width="1.4"/>
<path d="M1204.5,702.5V700.8Q1204.5,699.2 1206,699.2H1216Q1217.6,699.2 1217.6,700.8V702.5M1217.6,711.8V713.4Q1217.6,715 1216,715H1206Q1204.5,715 1204.5,713.4V711.8" fill="none" stroke="#131722" stroke-width="1.3"/>
<rect x="9.2" y="50.2" width="34" height="33.5" rx="6" fill="#ebebeb"/>
<path d="M19.3,60L30.3,64.6L25.8,66.7L30.5,71.5L28.4,73.6L23.6,68.8L21.4,73.3Z" fill="none" stroke="#131722" stroke-width="1.2" stroke-linecap="round" stroke-linejoin="round"/>
<path d="M15.8,105.2H23.7M28.7,105.2H36.6" fill="none" stroke="#131722" stroke-width="1.2" stroke-linecap="round" stroke-linejoin="round"/><circle cx="26.2" cy="105.2" r="2.4" fill="none" stroke="#131722" stroke-width="1.2" stroke-linecap="round" stroke-linejoin="round"/>
<path d="M15.2,133.3H36.6M15.2,139.3H34M15.2,145.3H36.6M18.3,151.3H36.6" fill="none" stroke="#131722" stroke-width="1.2" stroke-linecap="round" stroke-linejoin="round"/><circle cx="36.4" cy="139.3" r="2.3" fill="#fff" stroke="#131722" stroke-width="1.2"/><circle cx="15.8" cy="151.3" r="2.3" fill="#fff" stroke="#131722" stroke-width="1.2"/>
<path d="M20.6,172.6L17.4,189.3L24.5,179.4L20.6,172.6M24.5,179.4L32.6,173.1L35.4,186.4L24.5,179.4" fill="none" stroke="#131722" stroke-width="1.2" stroke-linecap="round" stroke-linejoin="round"/>
<circle cx="20.6" cy="172.6" r="2.2" fill="#fff" stroke="#131722" stroke-width="1.2"/>
<circle cx="32.6" cy="173.1" r="2.2" fill="#fff" stroke="#131722" stroke-width="1.2"/>
<circle cx="24.5" cy="179.4" r="2.2" fill="#fff" stroke="#131722" stroke-width="1.2"/>
<circle cx="17.4" cy="189.3" r="2.2" fill="#fff" stroke="#131722" stroke-width="1.2"/>
<circle cx="35.4" cy="186.4" r="2.2" fill="#fff" stroke="#131722" stroke-width="1.2"/>
<path d="M17.8,211.5H35.7M17.8,221.3H33M17.8,227.5H35.7" fill="none" stroke="#131722" stroke-width="1.2" stroke-linecap="round" stroke-linejoin="round"/><path d="M21.1,219.2L33.7,213.4" fill="none" stroke="#131722" stroke-width="1" stroke-dasharray="1.2 2.2"/>
<circle cx="16.2" cy="211.5" r="2.1" fill="#fff" stroke="#131722" stroke-width="1.2"/>
<circle cx="16.2" cy="221.3" r="2.1" fill="#fff" stroke="#131722" stroke-width="1.2"/>
<circle cx="16.2" cy="227.5" r="2.1" fill="#fff" stroke="#131722" stroke-width="1.2"/>
<circle cx="34.7" cy="221.3" r="2.1" fill="#fff" stroke="#131722" stroke-width="1.2"/>
<path d="M14.8,265.1H24.8Q29.8,263 29.6,258.8Q28.5,254.2 23.7,254.6Q19.5,255.5 14.8,265.1ZM30.4,249.6Q28.6,252.6 30.6,254.6Q32.6,256.2 35.2,253.4L39.4,249.2" fill="none" stroke="#131722" stroke-width="1.2" stroke-linecap="round" stroke-linejoin="round"/>
<path d="M19,290.3V286.6H33.6V290.3M26.3,286.6V303.4M23.8,303.4H28.8" fill="none" stroke="#131722" stroke-width="1.2" stroke-linecap="round" stroke-linejoin="round"/>
<circle cx="26" cy="332.6" r="10.2" fill="none" stroke="#131722" stroke-width="1.2" stroke-linecap="round" stroke-linejoin="round"/><circle cx="22.6" cy="330.4" r="0.9" fill="#131722"/><circle cx="29.4" cy="330.4" r="0.9" fill="#131722"/><path d="M22.6,335.4Q26,338.8 29.4,335.4" fill="none" stroke="#131722" stroke-width="1.2" stroke-linecap="round" stroke-linejoin="round"/>
<rect x="8" y="358" width="36" height="1" fill="#e6e7ea"/>
<path d="M14.6,388.7L33.2,372.4L37.6,377.3L19,393.6Z M18.6,385.2L20.4,387.2M21.6,382.6L23.4,384.6M24.6,380L26.4,382M27.6,377.4L29.4,379.4M30.6,374.8L32.4,376.8" fill="none" stroke="#131722" stroke-width="1.2" stroke-linecap="round" stroke-linejoin="round"/>
<circle cx="24.8" cy="420.2" r="7.8" fill="none" stroke="#131722" stroke-width="1.2" stroke-linecap="round" stroke-linejoin="round"/><path d="M30.4,425.8L34.2,429.8M24.8,416.6V423.8M21.2,420.2H28.4" fill="none" stroke="#131722" stroke-width="1.2" stroke-linecap="round" stroke-linejoin="round"/>
<rect x="8" y="447.3" width="36" height="1" fill="#e6e7ea"/>
<path d="M18.2,482.5V472Q18.2,462.5 26,462.5Q33.8,462.5 33.8,472V482.5H29.2V472Q29.2,467 26,467Q22.8,467 22.8,472V482.5ZM18.2,478H22.8M29.2,478H33.8" fill="none" stroke="#131722" stroke-width="1.2" stroke-linecap="round" stroke-linejoin="round"/>
<path d="M15.4,518.4L16.4,513.2L27.2,502.4L31.2,506.4L20.4,517.2Z M25,504.6L29,508.6" fill="none" stroke="#131722" stroke-width="1.2" stroke-linecap="round" stroke-linejoin="round"/><rect x="28" y="513.6" width="8.4" height="6.6" rx="1" fill="none" stroke="#131722" stroke-width="1.2" stroke-linecap="round" stroke-linejoin="round"/><path d="M30,513.6V511.6Q30,509.6 32.2,509.6Q34.4,509.6 34.4,511.6" fill="none" stroke="#131722" stroke-width="1.2" stroke-linecap="round" stroke-linejoin="round"/>
<rect x="18.4" y="546" width="15.2" height="13" rx="1.6" fill="none" stroke="#131722" stroke-width="1.2" stroke-linecap="round" stroke-linejoin="round"/><path d="M21.8,546V543Q21.8,539.2 25.6,539.2Q29.2,539.2 29.4,542.4" fill="none" stroke="#131722" stroke-width="1.2" stroke-linecap="round" stroke-linejoin="round"/><path d="M26,551V554" fill="none" stroke="#131722" stroke-width="1.8"/>
<path d="M16,582.3Q20.5,575.4 25.5,575.4Q30.5,575.4 35,582.3Q30.5,589.2 25.5,589.2Q20.5,589.2 16,582.3Z" fill="none" stroke="#131722" stroke-width="1.2" stroke-linecap="round" stroke-linejoin="round"/><circle cx="25.5" cy="582.3" r="3.4" fill="none" stroke="#131722" stroke-width="1.2" stroke-linecap="round" stroke-linejoin="round"/><path d="M27.6,596.6Q29.5,592.5 32,592.6Q33.5,593 32.2,594.6Q30,596.4 27.6,596.6ZM33.4,591.8L36.6,589.6" fill="none" stroke="#131722" stroke-width="1.2" stroke-linecap="round" stroke-linejoin="round"/>
<rect x="8" y="611.8" width="36" height="1" fill="#e6e7ea"/>
<path d="M17.6,629.2H34.6M22.2,629.2V627Q22.2,625.6 23.6,625.6H28.6Q30,625.6 30,627V629.2M19.2,629.2L20.4,646.4Q20.5,647.6 21.7,647.6H30.5Q31.7,647.6 31.8,646.4L33,629.2" fill="none" stroke="#131722" stroke-width="1.2" stroke-linecap="round" stroke-linejoin="round"/>
<path d="M1248.3,55.6H1267.4V78L1257.9,72.2L1248.3,78Z M1252.2,60.4H1263.4M1252.2,64.3H1263.4M1252.2,68.2H1263.4" fill="none" stroke="#131722" stroke-width="1.2" stroke-linecap="round" stroke-linejoin="round"/>
<circle cx="1258.1" cy="112" r="10.4" fill="none" stroke="#131722" stroke-width="1.2" stroke-linecap="round" stroke-linejoin="round"/><path d="M1258.6,105.4V113.8H1253M1245.6,103.6L1249.6,99.8M1270.6,103.6L1266.6,99.8" fill="none" stroke="#131722" stroke-width="1.2" stroke-linecap="round" stroke-linejoin="round"/>
<path d="M1257.6,147.4L1269.2,154.4L1257.6,161.4L1246,154.4Z M1246,159.2L1257.6,166.2L1269.2,159.2" fill="none" stroke="#131722" stroke-width="1.2" stroke-linecap="round" stroke-linejoin="round"/>
<path d="M1248.4,193.4H1262.2Q1264,193.4 1264,195.2V205Q1264,206.8 1262.2,206.8H1252.5L1246.4,211V195.2Q1246.4,193.4 1248.4,193.4ZM1264,198.6H1268.6Q1270.4,198.6 1270.4,200.4V216.2L1265,212.2H1254.2Q1252.5,212.2 1252.5,210.4V206.8" fill="none" stroke="#131722" stroke-width="1.2" stroke-linecap="round" stroke-linejoin="round"/>
<circle cx="1258" cy="461.2" r="13.2" fill="none" stroke="#131722" stroke-width="1.2" stroke-linecap="round" stroke-linejoin="round"/><circle cx="1258" cy="461.2" r="7.8" fill="none" stroke="#131722" stroke-width="1.2" stroke-linecap="round" stroke-linejoin="round"/><circle cx="1258" cy="461.2" r="2.4" fill="#131722"/><path d="M1258,461.2L1265.5,453.7" fill="none" stroke="#131722" stroke-width="1.2" stroke-linecap="round" stroke-linejoin="round"/>
<rect x="1246.4" y="498.2" width="23.2" height="19.8" rx="2.4" fill="none" stroke="#131722" stroke-width="1.2" stroke-linecap="round" stroke-linejoin="round"/><path d="M1246.4,503.8H1269.6M1251.8,495.2V501.4M1264.2,495.2V501.4" fill="none" stroke="#131722" stroke-width="1.2" stroke-linecap="round" stroke-linejoin="round"/>
<path d="M1247.8,550.6Q1259.4,550.6 1259.4,562.4M1247.8,544.8Q1265.2,544.8 1265.2,562.4M1247.8,539.2Q1270.8,539.2 1270.8,562.4" fill="none" stroke="#131722" stroke-width="1.2" stroke-linecap="round" stroke-linejoin="round"/><circle cx="1249.2" cy="561" r="1.6" fill="none" stroke="#131722" stroke-width="1.2" stroke-linecap="round" stroke-linejoin="round"/>
<path d="M1249,604V595Q1249,585.6 1258,585.6Q1267,585.6 1267,595V604L1270,607.8H1246ZM1254.6,607.8Q1254.6,611.4 1258,611.4Q1261.4,611.4 1261.4,607.8" fill="none" stroke="#131722" stroke-width="1.2" stroke-linecap="round" stroke-linejoin="round"/>
<circle cx="1267.4" cy="541" r="8.4" fill="#fff"/><circle cx="1267.4" cy="541" r="7.3" fill="#e8344a"/>
<text x="1267.4" y="544.55" font-size="10" font-weight="bold" fill="#fff" text-anchor="middle" >2</text>
<circle cx="1267.4" cy="588.2" r="8.4" fill="#fff"/><circle cx="1267.4" cy="588.2" r="7.3" fill="#e8344a"/>
<text x="1267.4" y="591.75" font-size="10" font-weight="bold" fill="#fff" text-anchor="middle" >2</text>
<circle cx="1257.8" cy="644.8" r="16.6" fill="#262626"/>
<rect x="1248.8999999999999" y="635.3" width="4.4" height="4.4" rx="0.7" fill="#fff"/>
<rect x="1248.8999999999999" y="642.3" width="4.4" height="4.4" rx="0.7" fill="#fff"/>
<rect x="1248.8999999999999" y="649.3" width="4.4" height="4.4" rx="0.7" fill="#fff"/>
<rect x="1255.8999999999999" y="635.3" width="4.4" height="4.4" rx="0.7" fill="#fff"/>
<rect x="1255.8999999999999" y="642.3" width="4.4" height="4.4" rx="0.7" fill="#fff"/>
<rect x="1255.8999999999999" y="649.3" width="4.4" height="4.4" rx="0.7" fill="#fff"/>
<rect x="1262.8999999999999" y="635.3" width="4.4" height="4.4" rx="0.7" fill="#fff"/>
<rect x="1262.8999999999999" y="642.3" width="4.4" height="4.4" rx="0.7" fill="#fff"/>
<rect x="1262.8999999999999" y="649.3" width="4.4" height="4.4" rx="0.7" fill="#fff"/>
<path d="M0,719A7,7 0 0 0 7,726H0Z" fill="#4a0f1c"/><path d="M1273,726A7,7 0 0 0 1280,719V726Z" fill="#4a0f1c"/>
<rect x="1240.6" y="673" width="33.2" height="1" fill="#e6e7ea"/>
<circle cx="1257.8" cy="701.6" r="13.6" fill="none" stroke="#131722" stroke-width="1.2" stroke-linecap="round" stroke-linejoin="round"/><path d="M1253.8,697.4Q1253.8,692.8 1258,692.8Q1262.2,692.8 1262.2,696.8Q1262.2,699.6 1258.2,701.4V704" fill="none" stroke="#131722" stroke-width="1.2" stroke-linecap="round" stroke-linejoin="round"/><circle cx="1258.2" cy="707.8" r="1.4" fill="none" stroke="#131722" stroke-width="1.2" stroke-linecap="round" stroke-linejoin="round"/>
</svg>
</body></html>
